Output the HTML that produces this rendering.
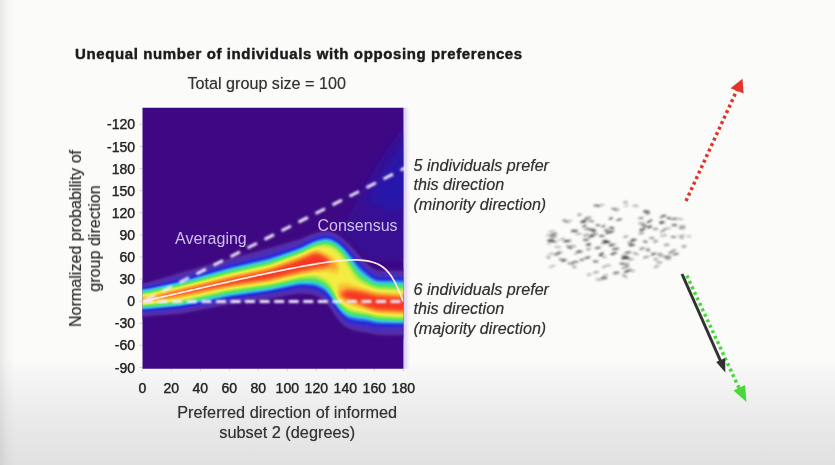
<!DOCTYPE html>
<html><head><meta charset="utf-8"><title>Unequal number of individuals with opposing preferences</title>
<style>
html,body{margin:0;padding:0}
body{width:835px;height:465px;overflow:hidden;position:relative;font-family:"Liberation Sans",Arial,Helvetica,sans-serif;color:#2b2b2b;
background:linear-gradient(to bottom,#fbfbfa 0px,#fbfbfa 360px,#f6f6f6 373px,#f0f0f0 395px,#e8e8e8 430px,#e1e1e1 465px)}
.edge{position:absolute;left:0;top:0;width:16px;height:465px;background:linear-gradient(to right,rgba(0,0,0,.075),rgba(0,0,0,.03) 6px,rgba(0,0,0,0) 16px)}
.t{position:absolute;white-space:nowrap;filter:blur(.55px);text-shadow:0 0 .8px rgba(40,40,40,.55)}
#title{left:75px;top:44.9px;font-weight:bold;font-size:15px;letter-spacing:.61px;color:#1c1c1c;-webkit-text-stroke:.3px #1c1c1c}
#sub{left:187.5px;top:73.6px;font-size:16.15px;color:#333}
.yl{position:absolute;left:85px;width:50px;text-align:right;font-size:14px;line-height:16px;color:#262626;filter:blur(.55px);-webkit-text-stroke:.25px #262626;text-shadow:0 0 .8px rgba(40,40,40,.6)}
.xl{position:absolute;top:379.7px;width:40px;text-align:center;font-size:14px;line-height:16px;color:#262626;filter:blur(.55px);-webkit-text-stroke:.25px #262626;text-shadow:0 0 .8px rgba(40,40,40,.6)}
#xt1,#xt2{font-size:16.3px;color:#333;text-align:center;width:300px;left:137.2px}
#xt1{top:403.4px} #xt2{top:422.6px}
.it{font-style:italic;font-size:16.15px;line-height:19.3px;color:#333;left:413.5px;white-space:pre}
#yt{position:absolute;left:0;top:0;width:200px;height:40px;transform-origin:0 0;transform:translate(66px,338.5px) rotate(-90deg);text-align:center;font-size:16.1px;line-height:19.3px;color:#333;filter:blur(.55px);text-shadow:0 0 .8px rgba(40,40,40,.55)}
svg{position:absolute;left:0;top:0}
.lab{font-size:16px;fill:#cdbfea}
</style></head><body>
<div class="edge"></div>
<div id="title" class="t">Unequal number of individuals with opposing preferences</div>
<div id="sub" class="t">Total group size = 100</div>
<div id="yt">Normalized probability of<br>group direction</div>
<div class="yl" style="top:116.4px">-120</div>
<div class="yl" style="top:138.5px">-150</div>
<div class="yl" style="top:160.6px">180</div>
<div class="yl" style="top:182.7px">150</div>
<div class="yl" style="top:204.8px">120</div>
<div class="yl" style="top:226.9px">90</div>
<div class="yl" style="top:249.0px">60</div>
<div class="yl" style="top:271.1px">30</div>
<div class="yl" style="top:293.2px">0</div>
<div class="yl" style="top:315.3px">-30</div>
<div class="yl" style="top:337.4px">-60</div>
<div class="yl" style="top:359.5px">-90</div>
<div class="xl" style="left:122.3px">0</div>
<div class="xl" style="left:151.3px">20</div>
<div class="xl" style="left:180.3px">40</div>
<div class="xl" style="left:209.3px">60</div>
<div class="xl" style="left:238.3px">80</div>
<div class="xl" style="left:267.3px">100</div>
<div class="xl" style="left:296.3px">120</div>
<div class="xl" style="left:325.3px">140</div>
<div class="xl" style="left:354.3px">160</div>
<div class="xl" style="left:383.3px">180</div>
<div id="xt1" class="t">Preferred direction of informed</div>
<div id="xt2" class="t">subset 2 (degrees)</div>
<div class="t it" style="top:156.2px">5 individuals prefer
this direction
(minority direction)</div>
<div class="t it" style="top:280.2px">6 individuals prefer
this direction
(majority direction)</div>
<svg width="835" height="465" viewBox="0 0 835 465">
<defs>
<linearGradient id="lav" x1="0" x2="1" y1="0" y2="0"><stop offset="0" stop-color="#d2c8ee"/><stop offset="0.45" stop-color="#e6e0f4"/><stop offset="1" stop-color="#f6f4f8" stop-opacity="0"/></linearGradient>
<clipPath id="pc"><rect x="142.5" y="107.7" width="260.9" height="261.0"/></clipPath>
<filter id="heat" x="100" y="60" width="360" height="360" filterUnits="userSpaceOnUse" color-interpolation-filters="sRGB">
<feGaussianBlur stdDeviation="2.0" result="g"/>
<feColorMatrix in="g" type="matrix" values="0 0 0 0 0  0 0 0 0 0  0 0 0 0 0  14 0 0 0 0" result="a"/>
<feComponentTransfer in="g" result="c">
<feFuncR type="table" tableValues="0.243 0.253 0.263 0.300 0.337 0.318 0.298 0.274 0.232 0.190 0.167 0.172 0.176 0.181 0.186 0.191 0.196 0.221 0.245 0.270 0.294 0.319 0.373 0.471 0.569 0.667 0.765 0.863 0.961 0.965 0.970 0.975 0.979 0.984 0.988 0.984 0.979 0.975 0.970 0.965 0.961"/>
<feFuncG type="table" tableValues="0.031 0.043 0.055 0.114 0.173 0.178 0.184 0.185 0.168 0.151 0.181 0.282 0.382 0.483 0.583 0.684 0.784 0.807 0.829 0.852 0.874 0.896 0.911 0.915 0.919 0.922 0.926 0.930 0.933 0.876 0.818 0.761 0.703 0.646 0.588 0.526 0.464 0.402 0.340 0.278 0.216"/>
<feFuncB type="table" tableValues="0.510 0.524 0.537 0.588 0.639 0.680 0.720 0.760 0.797 0.833 0.858 0.867 0.875 0.884 0.893 0.901 0.910 0.807 0.704 0.601 0.498 0.395 0.328 0.316 0.304 0.292 0.279 0.267 0.255 0.242 0.229 0.216 0.203 0.190 0.176 0.170 0.163 0.157 0.150 0.144 0.137"/>
</feComponentTransfer>
<feComposite in="c" in2="a" operator="in"/>
</filter>
<filter id="b1" x="-20%" y="-20%" width="140%" height="140%"><feGaussianBlur stdDeviation="0.7"/></filter>
<filter id="b3" x="0" y="0" width="835" height="465" filterUnits="userSpaceOnUse"><feGaussianBlur stdDeviation="0.8"/></filter>
<filter id="b2" x="-20%" y="-20%" width="140%" height="140%"><feGaussianBlur stdDeviation="0.8"/></filter>
<filter id="b6" x="0" y="0" width="835" height="465" filterUnits="userSpaceOnUse"><feGaussianBlur stdDeviation="2.6"/></filter>
<filter id="b7" x="0" y="0" width="835" height="465" filterUnits="userSpaceOnUse"><feGaussianBlur stdDeviation="0.6"/></filter>
<filter id="b5" x="-50%" y="-50%" width="200%" height="200%"><feGaussianBlur stdDeviation="7"/></filter>
</defs>
<g stroke="#d0d0d0" stroke-width="1"><line x1="139.5" x2="142.5" y1="124.4" y2="124.4"/>
<line x1="139.5" x2="142.5" y1="146.5" y2="146.5"/>
<line x1="139.5" x2="142.5" y1="168.6" y2="168.6"/>
<line x1="139.5" x2="142.5" y1="190.7" y2="190.7"/>
<line x1="139.5" x2="142.5" y1="212.8" y2="212.8"/>
<line x1="139.5" x2="142.5" y1="234.9" y2="234.9"/>
<line x1="139.5" x2="142.5" y1="257.0" y2="257.0"/>
<line x1="139.5" x2="142.5" y1="279.1" y2="279.1"/>
<line x1="139.5" x2="142.5" y1="301.2" y2="301.2"/>
<line x1="139.5" x2="142.5" y1="323.3" y2="323.3"/>
<line x1="139.5" x2="142.5" y1="345.4" y2="345.4"/>
<line x1="139.5" x2="142.5" y1="367.5" y2="367.5"/><line x1="142.3" x2="142.3" y1="368.7" y2="371.2"/>
<line x1="171.3" x2="171.3" y1="368.7" y2="371.2"/>
<line x1="200.3" x2="200.3" y1="368.7" y2="371.2"/>
<line x1="229.3" x2="229.3" y1="368.7" y2="371.2"/>
<line x1="258.3" x2="258.3" y1="368.7" y2="371.2"/>
<line x1="287.3" x2="287.3" y1="368.7" y2="371.2"/>
<line x1="316.3" x2="316.3" y1="368.7" y2="371.2"/>
<line x1="345.3" x2="345.3" y1="368.7" y2="371.2"/>
<line x1="374.3" x2="374.3" y1="368.7" y2="371.2"/>
<line x1="403.3" x2="403.3" y1="368.7" y2="371.2"/></g>
<rect x="402.9" y="107.7" width="8" height="261.0" fill="url(#lav)"/>
<g clip-path="url(#pc)">
<rect x="100" y="60" width="360" height="360" fill="rgb(62,8,130)"/>
<g filter="url(#b5)">
<path d="M330,250 L360,196 L388,150 L414,112 L414,262 L380,262Z" fill="rgb(52,22,165)" opacity="0.5"/>
<path d="M364,200 L384,166 L414,128 L414,208 L392,212Z" fill="rgb(30,26,190)" opacity="0.55"/>
</g>
<g filter="url(#heat)">
<rect x="100" y="60" width="360" height="360" fill="#000"/>
<path d="M136.0,282.7 L137.0,282.7 L138.0,282.7 L139.0,282.7 L140.0,282.7 L141.0,282.7 L142.0,282.7 L143.0,282.6 L144.0,282.5 L145.0,282.4 L146.0,282.2 L147.0,282.0 L148.0,281.7 L149.0,281.4 L150.0,281.1 L151.0,280.8 L152.0,280.5 L153.0,280.2 L154.0,279.9 L155.0,279.6 L156.0,279.2 L157.0,278.9 L158.0,278.6 L159.0,278.3 L160.0,278.0 L161.0,277.7 L162.0,277.4 L163.0,277.0 L164.0,276.7 L165.0,276.4 L166.0,276.1 L167.0,275.8 L168.0,275.5 L169.0,275.2 L170.0,274.8 L171.0,274.5 L172.0,274.2 L173.0,273.9 L174.0,273.6 L175.0,273.3 L176.0,273.0 L177.0,272.6 L178.0,272.3 L179.0,272.0 L180.0,271.7 L181.0,271.4 L182.0,271.1 L183.0,270.9 L184.0,270.6 L185.0,270.3 L186.0,270.0 L187.0,269.7 L188.0,269.4 L189.0,269.1 L190.0,268.9 L191.0,268.6 L192.0,268.3 L193.0,268.0 L194.0,267.7 L195.0,267.4 L196.0,267.2 L197.0,266.9 L198.0,266.6 L199.0,266.3 L200.0,266.0 L201.0,265.7 L202.0,265.5 L203.0,265.2 L204.0,264.9 L205.0,264.6 L206.0,264.3 L207.0,264.0 L208.0,263.7 L209.0,263.5 L210.0,263.2 L211.0,262.9 L212.0,262.6 L213.0,262.3 L214.0,262.0 L215.0,261.8 L216.0,261.5 L217.0,261.2 L218.0,260.9 L219.0,260.6 L220.0,260.3 L221.0,260.1 L222.0,259.8 L223.0,259.5 L224.0,259.2 L225.0,258.9 L226.0,258.6 L227.0,258.4 L228.0,258.1 L229.0,257.8 L230.0,257.5 L231.0,257.2 L232.0,257.0 L233.0,256.7 L234.0,256.4 L235.0,256.2 L236.0,255.9 L237.0,255.6 L238.0,255.3 L239.0,255.1 L240.0,254.8 L241.0,254.5 L242.0,254.3 L243.0,254.0 L244.0,253.7 L245.0,253.4 L246.0,253.2 L247.0,252.9 L248.0,252.6 L249.0,252.4 L250.0,252.1 L251.0,251.8 L252.0,251.6 L253.0,251.3 L254.0,251.0 L255.0,250.7 L256.0,250.5 L257.0,250.2 L258.0,249.9 L259.0,249.7 L260.0,249.4 L261.0,249.1 L262.0,248.9 L263.0,248.6 L264.0,248.3 L265.0,248.1 L266.0,247.8 L267.0,247.5 L268.0,247.2 L269.0,247.0 L270.0,246.7 L271.0,246.4 L272.0,246.1 L273.0,245.9 L274.0,245.6 L275.0,245.3 L276.0,245.0 L277.0,244.7 L278.0,244.5 L279.0,244.2 L280.0,243.9 L281.0,243.6 L282.0,243.3 L283.0,243.1 L284.0,242.8 L285.0,242.5 L286.0,242.2 L287.0,241.9 L288.0,241.7 L289.0,241.4 L290.0,241.1 L291.0,240.8 L292.0,240.5 L293.0,240.3 L294.0,240.0 L295.0,239.7 L296.0,239.4 L297.0,239.1 L298.0,238.8 L299.0,238.5 L300.0,238.1 L301.0,237.8 L302.0,237.4 L303.0,237.0 L304.0,236.6 L305.0,236.1 L306.0,235.7 L307.0,235.2 L308.0,234.8 L309.0,234.4 L310.0,233.9 L311.0,233.5 L312.0,233.1 L313.0,232.7 L314.0,232.3 L315.0,232.0 L316.0,231.7 L317.0,231.4 L318.0,231.1 L319.0,230.9 L320.0,230.7 L321.0,230.6 L322.0,230.4 L323.0,230.3 L324.0,230.1 L325.0,230.0 L326.0,230.0 L327.0,230.0 L328.0,230.1 L329.0,230.3 L330.0,230.5 L331.0,230.8 L332.0,231.1 L333.0,231.5 L334.0,231.9 L335.0,232.4 L336.0,232.9 L337.0,233.4 L338.0,234.0 L339.0,234.7 L340.0,235.3 L341.0,236.1 L342.0,236.8 L343.0,237.7 L344.0,238.5 L345.0,239.4 L346.0,240.3 L347.0,241.3 L348.0,242.2 L349.0,243.2 L350.0,244.2 L351.0,245.3 L352.0,246.4 L353.0,247.4 L354.0,248.5 L355.0,249.6 L356.0,250.6 L357.0,251.7 L358.0,252.8 L359.0,253.9 L360.0,255.0 L361.0,256.2 L362.0,257.3 L363.0,258.4 L364.0,259.5 L365.0,260.6 L366.0,261.6 L367.0,262.6 L368.0,263.5 L369.0,264.4 L370.0,265.3 L371.0,266.1 L372.0,266.8 L373.0,267.4 L374.0,267.9 L375.0,268.4 L376.0,268.8 L377.0,269.1 L378.0,269.3 L379.0,269.4 L380.0,269.5 L381.0,269.5 L382.0,269.5 L383.0,269.5 L384.0,269.5 L385.0,269.5 L386.0,269.5 L387.0,269.5 L388.0,269.5 L389.0,269.5 L390.0,269.5 L391.0,269.5 L392.0,269.5 L393.0,269.5 L394.0,269.5 L395.0,269.5 L396.0,269.5 L397.0,269.5 L398.0,269.6 L399.0,269.6 L400.0,269.6 L401.0,269.6 L402.0,269.7 L403.0,269.7 L404.0,269.8 L405.0,269.8 L406.0,269.8 L407.0,269.9 L408.0,269.9 L409.0,269.9 L410.0,270.0 L410.0,336.5 L409.0,336.5 L408.0,336.5 L407.0,336.5 L406.0,336.5 L405.0,336.5 L404.0,336.5 L403.0,336.5 L402.0,336.5 L401.0,336.5 L400.0,336.5 L399.0,336.5 L398.0,336.5 L397.0,336.5 L396.0,336.5 L395.0,336.5 L394.0,336.5 L393.0,336.4 L392.0,336.4 L391.0,336.4 L390.0,336.4 L389.0,336.4 L388.0,336.4 L387.0,336.4 L386.0,336.3 L385.0,336.3 L384.0,336.3 L383.0,336.3 L382.0,336.3 L381.0,336.3 L380.0,336.3 L379.0,336.2 L378.0,336.2 L377.0,336.1 L376.0,335.9 L375.0,335.8 L374.0,335.6 L373.0,335.4 L372.0,335.1 L371.0,334.9 L370.0,334.6 L369.0,334.4 L368.0,334.2 L367.0,334.0 L366.0,333.8 L365.0,333.6 L364.0,333.4 L363.0,333.3 L362.0,333.2 L361.0,333.0 L360.0,332.9 L359.0,332.7 L358.0,332.5 L357.0,332.3 L356.0,332.0 L355.0,331.8 L354.0,331.5 L353.0,331.3 L352.0,331.0 L351.0,330.7 L350.0,330.4 L349.0,330.0 L348.0,329.5 L347.0,329.0 L346.0,328.4 L345.0,327.7 L344.0,326.9 L343.0,326.1 L342.0,325.2 L341.0,324.2 L340.0,323.1 L339.0,321.9 L338.0,320.7 L337.0,319.3 L336.0,317.9 L335.0,316.4 L334.0,314.8 L333.0,313.1 L332.0,311.4 L331.0,309.8 L330.0,308.4 L329.0,307.0 L328.0,305.7 L327.0,304.6 L326.0,303.5 L325.0,302.6 L324.0,301.8 L323.0,301.1 L322.0,300.4 L321.0,299.7 L320.0,299.0 L319.0,298.4 L318.0,297.8 L317.0,297.3 L316.0,296.8 L315.0,296.4 L314.0,296.1 L313.0,295.9 L312.0,295.7 L311.0,295.6 L310.0,295.4 L309.0,295.3 L308.0,295.2 L307.0,295.1 L306.0,295.0 L305.0,294.9 L304.0,294.8 L303.0,294.7 L302.0,294.6 L301.0,294.6 L300.0,294.6 L299.0,294.7 L298.0,294.7 L297.0,294.9 L296.0,295.0 L295.0,295.2 L294.0,295.3 L293.0,295.5 L292.0,295.7 L291.0,295.9 L290.0,296.0 L289.0,296.2 L288.0,296.4 L287.0,296.6 L286.0,296.7 L285.0,296.9 L284.0,297.1 L283.0,297.2 L282.0,297.4 L281.0,297.6 L280.0,297.8 L279.0,297.9 L278.0,298.1 L277.0,298.3 L276.0,298.5 L275.0,298.6 L274.0,298.8 L273.0,299.0 L272.0,299.1 L271.0,299.3 L270.0,299.5 L269.0,299.6 L268.0,299.8 L267.0,299.9 L266.0,300.0 L265.0,300.2 L264.0,300.3 L263.0,300.5 L262.0,300.6 L261.0,300.7 L260.0,300.9 L259.0,301.0 L258.0,301.1 L257.0,301.3 L256.0,301.4 L255.0,301.6 L254.0,301.7 L253.0,301.8 L252.0,302.0 L251.0,302.1 L250.0,302.2 L249.0,302.4 L248.0,302.5 L247.0,302.7 L246.0,302.8 L245.0,302.9 L244.0,303.1 L243.0,303.2 L242.0,303.4 L241.0,303.5 L240.0,303.6 L239.0,303.8 L238.0,303.9 L237.0,304.0 L236.0,304.2 L235.0,304.3 L234.0,304.4 L233.0,304.6 L232.0,304.7 L231.0,304.9 L230.0,305.1 L229.0,305.2 L228.0,305.4 L227.0,305.6 L226.0,305.8 L225.0,306.0 L224.0,306.2 L223.0,306.4 L222.0,306.6 L221.0,306.8 L220.0,307.0 L219.0,307.2 L218.0,307.4 L217.0,307.6 L216.0,307.8 L215.0,308.0 L214.0,308.2 L213.0,308.4 L212.0,308.6 L211.0,308.8 L210.0,309.0 L209.0,309.2 L208.0,309.4 L207.0,309.6 L206.0,309.8 L205.0,310.0 L204.0,310.1 L203.0,310.3 L202.0,310.5 L201.0,310.7 L200.0,310.9 L199.0,311.1 L198.0,311.3 L197.0,311.5 L196.0,311.7 L195.0,311.9 L194.0,312.1 L193.0,312.3 L192.0,312.5 L191.0,312.7 L190.0,312.9 L189.0,313.1 L188.0,313.3 L187.0,313.5 L186.0,313.7 L185.0,313.9 L184.0,314.1 L183.0,314.3 L182.0,314.5 L181.0,314.6 L180.0,314.8 L179.0,314.9 L178.0,315.0 L177.0,315.1 L176.0,315.2 L175.0,315.2 L174.0,315.3 L173.0,315.4 L172.0,315.4 L171.0,315.5 L170.0,315.6 L169.0,315.7 L168.0,315.7 L167.0,315.8 L166.0,315.9 L165.0,315.9 L164.0,316.0 L163.0,316.1 L162.0,316.1 L161.0,316.2 L160.0,316.3 L159.0,316.3 L158.0,316.4 L157.0,316.5 L156.0,316.5 L155.0,316.6 L154.0,316.7 L153.0,316.8 L152.0,316.8 L151.0,316.9 L150.0,317.0 L149.0,317.0 L148.0,317.1 L147.0,317.1 L146.0,317.2 L145.0,317.2 L144.0,317.3 L143.0,317.3 L142.0,317.3 L141.0,317.3 L140.0,317.3 L139.0,317.3 L138.0,317.3 L137.0,317.3 L136.0,317.3Z" fill="rgb(26,26,26)" filter="url(#b6)"/>
<path d="M136.0,285.3 L137.0,285.3 L138.0,285.3 L139.0,285.3 L140.0,285.3 L141.0,285.3 L142.0,285.3 L143.0,285.3 L144.0,285.2 L145.0,285.1 L146.0,284.9 L147.0,284.7 L148.0,284.5 L149.0,284.3 L150.0,284.0 L151.0,283.8 L152.0,283.5 L153.0,283.2 L154.0,283.0 L155.0,282.7 L156.0,282.4 L157.0,282.2 L158.0,281.9 L159.0,281.6 L160.0,281.4 L161.0,281.1 L162.0,280.8 L163.0,280.6 L164.0,280.3 L165.0,280.0 L166.0,279.8 L167.0,279.5 L168.0,279.2 L169.0,279.0 L170.0,278.7 L171.0,278.4 L172.0,278.2 L173.0,277.9 L174.0,277.6 L175.0,277.4 L176.0,277.1 L177.0,276.8 L178.0,276.6 L179.0,276.3 L180.0,276.0 L181.0,275.8 L182.0,275.5 L183.0,275.2 L184.0,274.9 L185.0,274.6 L186.0,274.3 L187.0,274.1 L188.0,273.8 L189.0,273.5 L190.0,273.2 L191.0,272.9 L192.0,272.6 L193.0,272.3 L194.0,272.1 L195.0,271.8 L196.0,271.5 L197.0,271.2 L198.0,270.9 L199.0,270.6 L200.0,270.4 L201.0,270.1 L202.0,269.8 L203.0,269.5 L204.0,269.2 L205.0,268.9 L206.0,268.6 L207.0,268.4 L208.0,268.1 L209.0,267.8 L210.0,267.5 L211.0,267.2 L212.0,266.9 L213.0,266.6 L214.0,266.4 L215.0,266.1 L216.0,265.8 L217.0,265.5 L218.0,265.2 L219.0,264.9 L220.0,264.6 L221.0,264.4 L222.0,264.1 L223.0,263.8 L224.0,263.5 L225.0,263.2 L226.0,262.9 L227.0,262.7 L228.0,262.4 L229.0,262.1 L230.0,261.8 L231.0,261.6 L232.0,261.3 L233.0,261.0 L234.0,260.8 L235.0,260.5 L236.0,260.3 L237.0,260.0 L238.0,259.7 L239.0,259.5 L240.0,259.2 L241.0,259.0 L242.0,258.7 L243.0,258.5 L244.0,258.2 L245.0,257.9 L246.0,257.7 L247.0,257.4 L248.0,257.2 L249.0,256.9 L250.0,256.6 L251.0,256.4 L252.0,256.1 L253.0,255.9 L254.0,255.6 L255.0,255.4 L256.0,255.1 L257.0,254.8 L258.0,254.6 L259.0,254.3 L260.0,254.1 L261.0,253.8 L262.0,253.6 L263.0,253.3 L264.0,253.0 L265.0,252.8 L266.0,252.5 L267.0,252.3 L268.0,252.0 L269.0,251.7 L270.0,251.4 L271.0,251.2 L272.0,250.9 L273.0,250.6 L274.0,250.3 L275.0,249.9 L276.0,249.6 L277.0,249.3 L278.0,249.0 L279.0,248.7 L280.0,248.4 L281.0,248.1 L282.0,247.8 L283.0,247.5 L284.0,247.2 L285.0,246.8 L286.0,246.5 L287.0,246.2 L288.0,245.9 L289.0,245.6 L290.0,245.3 L291.0,245.0 L292.0,244.7 L293.0,244.4 L294.0,244.1 L295.0,243.8 L296.0,243.4 L297.0,243.1 L298.0,242.8 L299.0,242.4 L300.0,242.0 L301.0,241.6 L302.0,241.2 L303.0,240.8 L304.0,240.4 L305.0,239.9 L306.0,239.4 L307.0,239.0 L308.0,238.5 L309.0,238.0 L310.0,237.6 L311.0,237.1 L312.0,236.7 L313.0,236.2 L314.0,235.8 L315.0,235.5 L316.0,235.1 L317.0,234.8 L318.0,234.5 L319.0,234.3 L320.0,234.0 L321.0,233.8 L322.0,233.6 L323.0,233.4 L324.0,233.2 L325.0,233.1 L326.0,233.1 L327.0,233.1 L328.0,233.2 L329.0,233.3 L330.0,233.5 L331.0,233.8 L332.0,234.2 L333.0,234.6 L334.0,235.1 L335.0,235.6 L336.0,236.1 L337.0,236.7 L338.0,237.3 L339.0,237.9 L340.0,238.6 L341.0,239.4 L342.0,240.2 L343.0,241.1 L344.0,242.0 L345.0,242.9 L346.0,243.8 L347.0,244.8 L348.0,245.9 L349.0,246.9 L350.0,248.0 L351.0,249.2 L352.0,250.3 L353.0,251.5 L354.0,252.6 L355.0,253.7 L356.0,254.9 L357.0,256.0 L358.0,257.1 L359.0,258.2 L360.0,259.2 L361.0,260.3 L362.0,261.4 L363.0,262.4 L364.0,263.5 L365.0,264.5 L366.0,265.5 L367.0,266.5 L368.0,267.5 L369.0,268.4 L370.0,269.3 L371.0,270.2 L372.0,271.0 L373.0,271.7 L374.0,272.3 L375.0,272.8 L376.0,273.2 L377.0,273.6 L378.0,273.8 L379.0,274.0 L380.0,274.0 L381.0,274.0 L382.0,274.0 L383.0,274.0 L384.0,274.0 L385.0,274.0 L386.0,273.9 L387.0,273.9 L388.0,273.9 L389.0,273.9 L390.0,273.9 L391.0,273.9 L392.0,273.8 L393.0,273.8 L394.0,273.8 L395.0,273.8 L396.0,273.8 L397.0,273.8 L398.0,273.8 L399.0,273.8 L400.0,273.9 L401.0,273.9 L402.0,274.0 L403.0,274.0 L404.0,274.0 L405.0,274.1 L406.0,274.1 L407.0,274.2 L408.0,274.2 L409.0,274.2 L410.0,274.3 L410.0,331.3 L409.0,331.3 L408.0,331.3 L407.0,331.3 L406.0,331.3 L405.0,331.3 L404.0,331.3 L403.0,331.3 L402.0,331.3 L401.0,331.4 L400.0,331.4 L399.0,331.4 L398.0,331.4 L397.0,331.4 L396.0,331.4 L395.0,331.4 L394.0,331.4 L393.0,331.4 L392.0,331.4 L391.0,331.4 L390.0,331.4 L389.0,331.4 L388.0,331.4 L387.0,331.4 L386.0,331.4 L385.0,331.4 L384.0,331.4 L383.0,331.4 L382.0,331.4 L381.0,331.4 L380.0,331.4 L379.0,331.4 L378.0,331.4 L377.0,331.3 L376.0,331.2 L375.0,331.0 L374.0,330.8 L373.0,330.6 L372.0,330.4 L371.0,330.1 L370.0,329.9 L369.0,329.7 L368.0,329.5 L367.0,329.3 L366.0,329.1 L365.0,329.0 L364.0,328.9 L363.0,328.8 L362.0,328.7 L361.0,328.5 L360.0,328.4 L359.0,328.3 L358.0,328.1 L357.0,327.9 L356.0,327.7 L355.0,327.5 L354.0,327.3 L353.0,327.1 L352.0,326.8 L351.0,326.5 L350.0,326.2 L349.0,325.9 L348.0,325.4 L347.0,324.8 L346.0,324.2 L345.0,323.5 L344.0,322.6 L343.0,321.7 L342.0,320.7 L341.0,319.6 L340.0,318.5 L339.0,317.2 L338.0,315.9 L337.0,314.6 L336.0,313.1 L335.0,311.6 L334.0,310.0 L333.0,308.4 L332.0,306.7 L331.0,305.2 L330.0,303.7 L329.0,302.4 L328.0,301.2 L327.0,300.1 L326.0,299.1 L325.0,298.2 L324.0,297.4 L323.0,296.8 L322.0,296.1 L321.0,295.5 L320.0,294.9 L319.0,294.3 L318.0,293.7 L317.0,293.2 L316.0,292.8 L315.0,292.5 L314.0,292.2 L313.0,291.9 L312.0,291.7 L311.0,291.6 L310.0,291.5 L309.0,291.4 L308.0,291.3 L307.0,291.2 L306.0,291.1 L305.0,291.0 L304.0,290.8 L303.0,290.8 L302.0,290.7 L301.0,290.7 L300.0,290.7 L299.0,290.8 L298.0,290.9 L297.0,291.0 L296.0,291.1 L295.0,291.3 L294.0,291.5 L293.0,291.7 L292.0,291.9 L291.0,292.1 L290.0,292.2 L289.0,292.4 L288.0,292.6 L287.0,292.8 L286.0,293.0 L285.0,293.2 L284.0,293.4 L283.0,293.5 L282.0,293.7 L281.0,293.9 L280.0,294.1 L279.0,294.3 L278.0,294.5 L277.0,294.7 L276.0,294.8 L275.0,295.0 L274.0,295.2 L273.0,295.4 L272.0,295.6 L271.0,295.7 L270.0,295.9 L269.0,296.1 L268.0,296.2 L267.0,296.4 L266.0,296.5 L265.0,296.6 L264.0,296.8 L263.0,296.9 L262.0,297.0 L261.0,297.2 L260.0,297.3 L259.0,297.5 L258.0,297.6 L257.0,297.7 L256.0,297.9 L255.0,298.0 L254.0,298.1 L253.0,298.3 L252.0,298.4 L251.0,298.6 L250.0,298.7 L249.0,298.8 L248.0,299.0 L247.0,299.1 L246.0,299.2 L245.0,299.4 L244.0,299.5 L243.0,299.7 L242.0,299.8 L241.0,299.9 L240.0,300.1 L239.0,300.2 L238.0,300.3 L237.0,300.5 L236.0,300.6 L235.0,300.8 L234.0,300.9 L233.0,301.0 L232.0,301.2 L231.0,301.3 L230.0,301.5 L229.0,301.7 L228.0,301.8 L227.0,302.0 L226.0,302.2 L225.0,302.4 L224.0,302.6 L223.0,302.8 L222.0,303.0 L221.0,303.2 L220.0,303.3 L219.0,303.5 L218.0,303.7 L217.0,303.9 L216.0,304.1 L215.0,304.3 L214.0,304.5 L213.0,304.7 L212.0,304.9 L211.0,305.1 L210.0,305.2 L209.0,305.4 L208.0,305.6 L207.0,305.8 L206.0,306.0 L205.0,306.2 L204.0,306.4 L203.0,306.6 L202.0,306.8 L201.0,307.0 L200.0,307.1 L199.0,307.3 L198.0,307.5 L197.0,307.7 L196.0,307.9 L195.0,308.1 L194.0,308.3 L193.0,308.5 L192.0,308.7 L191.0,308.9 L190.0,309.0 L189.0,309.2 L188.0,309.4 L187.0,309.6 L186.0,309.8 L185.0,310.0 L184.0,310.2 L183.0,310.4 L182.0,310.5 L181.0,310.7 L180.0,310.8 L179.0,311.0 L178.0,311.1 L177.0,311.2 L176.0,311.3 L175.0,311.4 L174.0,311.4 L173.0,311.5 L172.0,311.6 L171.0,311.7 L170.0,311.8 L169.0,311.8 L168.0,311.9 L167.0,312.0 L166.0,312.1 L165.0,312.2 L164.0,312.3 L163.0,312.3 L162.0,312.4 L161.0,312.5 L160.0,312.6 L159.0,312.7 L158.0,312.7 L157.0,312.8 L156.0,312.9 L155.0,313.0 L154.0,313.1 L153.0,313.1 L152.0,313.2 L151.0,313.3 L150.0,313.4 L149.0,313.5 L148.0,313.5 L147.0,313.6 L146.0,313.7 L145.0,313.7 L144.0,313.7 L143.0,313.8 L142.0,313.8 L141.0,313.8 L140.0,313.8 L139.0,313.8 L138.0,313.8 L137.0,313.8 L136.0,313.8Z" fill="rgb(43,43,43)"/>
<path d="M136.0,288.0 L137.0,288.0 L138.0,288.0 L139.0,288.0 L140.0,288.0 L141.0,288.0 L142.0,288.0 L143.0,287.9 L144.0,287.9 L145.0,287.8 L146.0,287.6 L147.0,287.5 L148.0,287.3 L149.0,287.1 L150.0,286.9 L151.0,286.7 L152.0,286.5 L153.0,286.3 L154.0,286.0 L155.0,285.8 L156.0,285.6 L157.0,285.4 L158.0,285.2 L159.0,285.0 L160.0,284.7 L161.0,284.5 L162.0,284.3 L163.0,284.1 L164.0,283.9 L165.0,283.7 L166.0,283.4 L167.0,283.2 L168.0,283.0 L169.0,282.8 L170.0,282.6 L171.0,282.4 L172.0,282.1 L173.0,281.9 L174.0,281.7 L175.0,281.5 L176.0,281.3 L177.0,281.0 L178.0,280.8 L179.0,280.6 L180.0,280.3 L181.0,280.1 L182.0,279.8 L183.0,279.5 L184.0,279.3 L185.0,279.0 L186.0,278.7 L187.0,278.4 L188.0,278.1 L189.0,277.8 L190.0,277.5 L191.0,277.3 L192.0,277.0 L193.0,276.7 L194.0,276.4 L195.0,276.1 L196.0,275.8 L197.0,275.5 L198.0,275.3 L199.0,275.0 L200.0,274.7 L201.0,274.4 L202.0,274.1 L203.0,273.8 L204.0,273.5 L205.0,273.2 L206.0,273.0 L207.0,272.7 L208.0,272.4 L209.0,272.1 L210.0,271.8 L211.0,271.5 L212.0,271.2 L213.0,271.0 L214.0,270.7 L215.0,270.4 L216.0,270.1 L217.0,269.8 L218.0,269.5 L219.0,269.2 L220.0,269.0 L221.0,268.7 L222.0,268.4 L223.0,268.1 L224.0,267.8 L225.0,267.5 L226.0,267.2 L227.0,267.0 L228.0,266.7 L229.0,266.4 L230.0,266.1 L231.0,265.9 L232.0,265.6 L233.0,265.4 L234.0,265.1 L235.0,264.9 L236.0,264.6 L237.0,264.4 L238.0,264.1 L239.0,263.9 L240.0,263.6 L241.0,263.4 L242.0,263.2 L243.0,262.9 L244.0,262.7 L245.0,262.4 L246.0,262.2 L247.0,261.9 L248.0,261.7 L249.0,261.4 L250.0,261.2 L251.0,261.0 L252.0,260.7 L253.0,260.5 L254.0,260.2 L255.0,260.0 L256.0,259.7 L257.0,259.5 L258.0,259.2 L259.0,259.0 L260.0,258.8 L261.0,258.5 L262.0,258.3 L263.0,258.0 L264.0,257.8 L265.0,257.5 L266.0,257.3 L267.0,257.0 L268.0,256.8 L269.0,256.5 L270.0,256.2 L271.0,255.9 L272.0,255.6 L273.0,255.3 L274.0,254.9 L275.0,254.6 L276.0,254.3 L277.0,253.9 L278.0,253.6 L279.0,253.2 L280.0,252.9 L281.0,252.6 L282.0,252.2 L283.0,251.9 L284.0,251.5 L285.0,251.2 L286.0,250.9 L287.0,250.5 L288.0,250.2 L289.0,249.8 L290.0,249.5 L291.0,249.2 L292.0,248.8 L293.0,248.5 L294.0,248.1 L295.0,247.8 L296.0,247.5 L297.0,247.1 L298.0,246.7 L299.0,246.3 L300.0,245.9 L301.0,245.5 L302.0,245.1 L303.0,244.6 L304.0,244.2 L305.0,243.7 L306.0,243.2 L307.0,242.7 L308.0,242.2 L309.0,241.7 L310.0,241.2 L311.0,240.7 L312.0,240.3 L313.0,239.8 L314.0,239.4 L315.0,239.0 L316.0,238.6 L317.0,238.2 L318.0,237.9 L319.0,237.6 L320.0,237.4 L321.0,237.1 L322.0,236.9 L323.0,236.6 L324.0,236.4 L325.0,236.2 L326.0,236.1 L327.0,236.1 L328.0,236.2 L329.0,236.4 L330.0,236.6 L331.0,236.9 L332.0,237.3 L333.0,237.7 L334.0,238.2 L335.0,238.7 L336.0,239.3 L337.0,239.9 L338.0,240.5 L339.0,241.2 L340.0,242.0 L341.0,242.7 L342.0,243.6 L343.0,244.5 L344.0,245.4 L345.0,246.4 L346.0,247.4 L347.0,248.4 L348.0,249.5 L349.0,250.7 L350.0,251.8 L351.0,253.0 L352.0,254.3 L353.0,255.5 L354.0,256.7 L355.0,257.9 L356.0,259.1 L357.0,260.2 L358.0,261.3 L359.0,262.4 L360.0,263.5 L361.0,264.5 L362.0,265.5 L363.0,266.5 L364.0,267.5 L365.0,268.5 L366.0,269.5 L367.0,270.4 L368.0,271.4 L369.0,272.4 L370.0,273.3 L371.0,274.3 L372.0,275.2 L373.0,276.0 L374.0,276.7 L375.0,277.2 L376.0,277.7 L377.0,278.1 L378.0,278.4 L379.0,278.5 L380.0,278.6 L381.0,278.5 L382.0,278.5 L383.0,278.5 L384.0,278.4 L385.0,278.4 L386.0,278.4 L387.0,278.3 L388.0,278.3 L389.0,278.3 L390.0,278.2 L391.0,278.2 L392.0,278.2 L393.0,278.1 L394.0,278.1 L395.0,278.1 L396.0,278.1 L397.0,278.1 L398.0,278.1 L399.0,278.1 L400.0,278.1 L401.0,278.2 L402.0,278.2 L403.0,278.3 L404.0,278.3 L405.0,278.4 L406.0,278.4 L407.0,278.5 L408.0,278.5 L409.0,278.5 L410.0,278.5 L410.0,326.2 L409.0,326.2 L408.0,326.2 L407.0,326.2 L406.0,326.2 L405.0,326.2 L404.0,326.2 L403.0,326.2 L402.0,326.2 L401.0,326.2 L400.0,326.2 L399.0,326.2 L398.0,326.2 L397.0,326.2 L396.0,326.2 L395.0,326.3 L394.0,326.3 L393.0,326.3 L392.0,326.3 L391.0,326.3 L390.0,326.4 L389.0,326.4 L388.0,326.4 L387.0,326.4 L386.0,326.5 L385.0,326.5 L384.0,326.5 L383.0,326.5 L382.0,326.6 L381.0,326.6 L380.0,326.6 L379.0,326.6 L378.0,326.6 L377.0,326.5 L376.0,326.4 L375.0,326.3 L374.0,326.1 L373.0,325.9 L372.0,325.7 L371.0,325.4 L370.0,325.2 L369.0,325.0 L368.0,324.8 L367.0,324.7 L366.0,324.5 L365.0,324.4 L364.0,324.3 L363.0,324.2 L362.0,324.2 L361.0,324.1 L360.0,324.0 L359.0,323.9 L358.0,323.7 L357.0,323.6 L356.0,323.4 L355.0,323.2 L354.0,323.1 L353.0,322.8 L352.0,322.6 L351.0,322.4 L350.0,322.1 L349.0,321.8 L348.0,321.3 L347.0,320.7 L346.0,320.0 L345.0,319.2 L344.0,318.3 L343.0,317.4 L342.0,316.3 L341.0,315.1 L340.0,313.8 L339.0,312.5 L338.0,311.2 L337.0,309.8 L336.0,308.3 L335.0,306.8 L334.0,305.3 L333.0,303.7 L332.0,302.0 L331.0,300.5 L330.0,299.1 L329.0,297.8 L328.0,296.7 L327.0,295.6 L326.0,294.6 L325.0,293.8 L324.0,293.1 L323.0,292.5 L322.0,291.9 L321.0,291.3 L320.0,290.7 L319.0,290.1 L318.0,289.6 L317.0,289.2 L316.0,288.8 L315.0,288.5 L314.0,288.2 L313.0,288.0 L312.0,287.8 L311.0,287.7 L310.0,287.6 L309.0,287.5 L308.0,287.4 L307.0,287.3 L306.0,287.1 L305.0,287.0 L304.0,286.9 L303.0,286.9 L302.0,286.8 L301.0,286.8 L300.0,286.8 L299.0,286.9 L298.0,287.0 L297.0,287.1 L296.0,287.3 L295.0,287.5 L294.0,287.7 L293.0,287.9 L292.0,288.1 L291.0,288.3 L290.0,288.5 L289.0,288.7 L288.0,288.9 L287.0,289.1 L286.0,289.3 L285.0,289.4 L284.0,289.6 L283.0,289.8 L282.0,290.0 L281.0,290.2 L280.0,290.4 L279.0,290.6 L278.0,290.8 L277.0,291.0 L276.0,291.2 L275.0,291.4 L274.0,291.6 L273.0,291.8 L272.0,292.0 L271.0,292.2 L270.0,292.3 L269.0,292.5 L268.0,292.7 L267.0,292.8 L266.0,292.9 L265.0,293.1 L264.0,293.2 L263.0,293.4 L262.0,293.5 L261.0,293.6 L260.0,293.8 L259.0,293.9 L258.0,294.0 L257.0,294.2 L256.0,294.3 L255.0,294.5 L254.0,294.6 L253.0,294.7 L252.0,294.9 L251.0,295.0 L250.0,295.1 L249.0,295.3 L248.0,295.4 L247.0,295.6 L246.0,295.7 L245.0,295.8 L244.0,296.0 L243.0,296.1 L242.0,296.2 L241.0,296.4 L240.0,296.5 L239.0,296.7 L238.0,296.8 L237.0,296.9 L236.0,297.1 L235.0,297.2 L234.0,297.3 L233.0,297.5 L232.0,297.6 L231.0,297.8 L230.0,297.9 L229.0,298.1 L228.0,298.3 L227.0,298.5 L226.0,298.6 L225.0,298.8 L224.0,299.0 L223.0,299.2 L222.0,299.4 L221.0,299.5 L220.0,299.7 L219.0,299.9 L218.0,300.1 L217.0,300.3 L216.0,300.4 L215.0,300.6 L214.0,300.8 L213.0,301.0 L212.0,301.2 L211.0,301.4 L210.0,301.5 L209.0,301.7 L208.0,301.9 L207.0,302.1 L206.0,302.3 L205.0,302.4 L204.0,302.6 L203.0,302.8 L202.0,303.0 L201.0,303.2 L200.0,303.4 L199.0,303.5 L198.0,303.7 L197.0,303.9 L196.0,304.1 L195.0,304.3 L194.0,304.5 L193.0,304.6 L192.0,304.8 L191.0,305.0 L190.0,305.2 L189.0,305.4 L188.0,305.5 L187.0,305.7 L186.0,305.9 L185.0,306.1 L184.0,306.3 L183.0,306.4 L182.0,306.6 L181.0,306.8 L180.0,306.9 L179.0,307.0 L178.0,307.2 L177.0,307.3 L176.0,307.4 L175.0,307.5 L174.0,307.6 L173.0,307.7 L172.0,307.8 L171.0,307.8 L170.0,307.9 L169.0,308.0 L168.0,308.1 L167.0,308.2 L166.0,308.3 L165.0,308.4 L164.0,308.5 L163.0,308.6 L162.0,308.7 L161.0,308.8 L160.0,308.9 L159.0,309.0 L158.0,309.1 L157.0,309.2 L156.0,309.3 L155.0,309.4 L154.0,309.5 L153.0,309.5 L152.0,309.6 L151.0,309.7 L150.0,309.8 L149.0,309.9 L148.0,310.0 L147.0,310.1 L146.0,310.1 L145.0,310.2 L144.0,310.2 L143.0,310.3 L142.0,310.3 L141.0,310.3 L140.0,310.3 L139.0,310.3 L138.0,310.3 L137.0,310.3 L136.0,310.3Z" fill="rgb(61,61,61)"/>
<path d="M136.0,289.1 L137.0,289.1 L138.0,289.1 L139.0,289.1 L140.0,289.1 L141.0,289.1 L142.0,289.1 L143.0,289.1 L144.0,289.0 L145.0,288.9 L146.0,288.8 L147.0,288.7 L148.0,288.5 L149.0,288.3 L150.0,288.1 L151.0,287.9 L152.0,287.7 L153.0,287.4 L154.0,287.2 L155.0,287.0 L156.0,286.8 L157.0,286.6 L158.0,286.4 L159.0,286.2 L160.0,286.0 L161.0,285.7 L162.0,285.5 L163.0,285.3 L164.0,285.1 L165.0,284.9 L166.0,284.7 L167.0,284.5 L168.0,284.3 L169.0,284.0 L170.0,283.8 L171.0,283.6 L172.0,283.4 L173.0,283.2 L174.0,283.0 L175.0,282.8 L176.0,282.6 L177.0,282.3 L178.0,282.1 L179.0,281.9 L180.0,281.6 L181.0,281.4 L182.0,281.1 L183.0,280.8 L184.0,280.6 L185.0,280.3 L186.0,280.0 L187.0,279.7 L188.0,279.4 L189.0,279.1 L190.0,278.8 L191.0,278.6 L192.0,278.3 L193.0,278.0 L194.0,277.7 L195.0,277.4 L196.0,277.1 L197.0,276.8 L198.0,276.6 L199.0,276.3 L200.0,276.0 L201.0,275.7 L202.0,275.4 L203.0,275.1 L204.0,274.8 L205.0,274.5 L206.0,274.3 L207.0,274.0 L208.0,273.7 L209.0,273.4 L210.0,273.1 L211.0,272.8 L212.0,272.5 L213.0,272.3 L214.0,272.0 L215.0,271.7 L216.0,271.4 L217.0,271.1 L218.0,270.8 L219.0,270.5 L220.0,270.3 L221.0,270.0 L222.0,269.7 L223.0,269.4 L224.0,269.1 L225.0,268.8 L226.0,268.5 L227.0,268.3 L228.0,268.0 L229.0,267.7 L230.0,267.5 L231.0,267.2 L232.0,266.9 L233.0,266.7 L234.0,266.5 L235.0,266.2 L236.0,266.0 L237.0,265.8 L238.0,265.5 L239.0,265.3 L240.0,265.1 L241.0,264.8 L242.0,264.6 L243.0,264.4 L244.0,264.1 L245.0,263.9 L246.0,263.7 L247.0,263.4 L248.0,263.2 L249.0,263.0 L250.0,262.7 L251.0,262.5 L252.0,262.3 L253.0,262.0 L254.0,261.8 L255.0,261.6 L256.0,261.3 L257.0,261.1 L258.0,260.9 L259.0,260.6 L260.0,260.4 L261.0,260.2 L262.0,259.9 L263.0,259.7 L264.0,259.5 L265.0,259.2 L266.0,259.0 L267.0,258.7 L268.0,258.5 L269.0,258.2 L270.0,257.9 L271.0,257.6 L272.0,257.3 L273.0,257.0 L274.0,256.7 L275.0,256.4 L276.0,256.0 L277.0,255.7 L278.0,255.3 L279.0,255.0 L280.0,254.7 L281.0,254.3 L282.0,254.0 L283.0,253.7 L284.0,253.3 L285.0,253.0 L286.0,252.6 L287.0,252.3 L288.0,252.0 L289.0,251.6 L290.0,251.3 L291.0,250.9 L292.0,250.6 L293.0,250.3 L294.0,249.9 L295.0,249.6 L296.0,249.3 L297.0,248.9 L298.0,248.5 L299.0,248.1 L300.0,247.7 L301.0,247.3 L302.0,246.9 L303.0,246.4 L304.0,245.9 L305.0,245.4 L306.0,245.0 L307.0,244.5 L308.0,244.0 L309.0,243.5 L310.0,243.0 L311.0,242.5 L312.0,242.0 L313.0,241.6 L314.0,241.1 L315.0,240.7 L316.0,240.3 L317.0,240.0 L318.0,239.7 L319.0,239.4 L320.0,239.1 L321.0,238.9 L322.0,238.6 L323.0,238.4 L324.0,238.1 L325.0,238.0 L326.0,237.9 L327.0,237.9 L328.0,238.0 L329.0,238.2 L330.0,238.4 L331.0,238.8 L332.0,239.2 L333.0,239.7 L334.0,240.2 L335.0,240.8 L336.0,241.4 L337.0,242.1 L338.0,242.8 L339.0,243.5 L340.0,244.3 L341.0,245.1 L342.0,246.0 L343.0,247.0 L344.0,248.0 L345.0,249.0 L346.0,250.1 L347.0,251.3 L348.0,252.4 L349.0,253.7 L350.0,254.9 L351.0,256.2 L352.0,257.6 L353.0,258.9 L354.0,260.2 L355.0,261.5 L356.0,262.7 L357.0,263.8 L358.0,264.9 L359.0,266.0 L360.0,267.0 L361.0,268.0 L362.0,268.9 L363.0,269.8 L364.0,270.7 L365.0,271.5 L366.0,272.4 L367.0,273.3 L368.0,274.1 L369.0,275.0 L370.0,275.8 L371.0,276.6 L372.0,277.4 L373.0,278.1 L374.0,278.7 L375.0,279.2 L376.0,279.6 L377.0,279.9 L378.0,280.1 L379.0,280.3 L380.0,280.3 L381.0,280.3 L382.0,280.3 L383.0,280.3 L384.0,280.2 L385.0,280.2 L386.0,280.2 L387.0,280.2 L388.0,280.2 L389.0,280.2 L390.0,280.1 L391.0,280.1 L392.0,280.1 L393.0,280.1 L394.0,280.1 L395.0,280.1 L396.0,280.1 L397.0,280.1 L398.0,280.1 L399.0,280.1 L400.0,280.2 L401.0,280.2 L402.0,280.2 L403.0,280.3 L404.0,280.3 L405.0,280.4 L406.0,280.4 L407.0,280.5 L408.0,280.5 L409.0,280.6 L410.0,280.6 L410.0,324.1 L409.0,324.1 L408.0,324.1 L407.0,324.1 L406.0,324.1 L405.0,324.1 L404.0,324.1 L403.0,324.1 L402.0,324.1 L401.0,324.0 L400.0,324.0 L399.0,324.0 L398.0,324.0 L397.0,324.0 L396.0,324.0 L395.0,324.0 L394.0,324.0 L393.0,324.0 L392.0,324.0 L391.0,324.0 L390.0,324.0 L389.0,324.0 L388.0,324.0 L387.0,324.0 L386.0,324.0 L385.0,324.0 L384.0,324.0 L383.0,324.0 L382.0,323.9 L381.0,323.9 L380.0,323.9 L379.0,323.9 L378.0,323.8 L377.0,323.7 L376.0,323.6 L375.0,323.4 L374.0,323.3 L373.0,323.0 L372.0,322.8 L371.0,322.5 L370.0,322.3 L369.0,322.0 L368.0,321.8 L367.0,321.7 L366.0,321.5 L365.0,321.4 L364.0,321.3 L363.0,321.2 L362.0,321.2 L361.0,321.1 L360.0,321.0 L359.0,320.9 L358.0,320.7 L357.0,320.6 L356.0,320.5 L355.0,320.3 L354.0,320.1 L353.0,319.9 L352.0,319.7 L351.0,319.5 L350.0,319.2 L349.0,318.9 L348.0,318.4 L347.0,317.9 L346.0,317.3 L345.0,316.5 L344.0,315.7 L343.0,314.8 L342.0,313.8 L341.0,312.6 L340.0,311.4 L339.0,310.2 L338.0,308.9 L337.0,307.5 L336.0,306.0 L335.0,304.5 L334.0,302.9 L333.0,301.2 L332.0,299.5 L331.0,298.0 L330.0,296.5 L329.0,295.2 L328.0,294.0 L327.0,293.0 L326.0,292.0 L325.0,291.2 L324.0,290.5 L323.0,290.0 L322.0,289.4 L321.0,288.9 L320.0,288.3 L319.0,287.8 L318.0,287.3 L317.0,286.9 L316.0,286.6 L315.0,286.3 L314.0,286.0 L313.0,285.9 L312.0,285.7 L311.0,285.6 L310.0,285.5 L309.0,285.5 L308.0,285.4 L307.0,285.3 L306.0,285.2 L305.0,285.1 L304.0,285.1 L303.0,285.0 L302.0,285.0 L301.0,285.0 L300.0,285.1 L299.0,285.2 L298.0,285.3 L297.0,285.4 L296.0,285.6 L295.0,285.8 L294.0,286.0 L293.0,286.2 L292.0,286.4 L291.0,286.6 L290.0,286.9 L289.0,287.1 L288.0,287.3 L287.0,287.5 L286.0,287.7 L285.0,287.9 L284.0,288.1 L283.0,288.3 L282.0,288.5 L281.0,288.7 L280.0,288.9 L279.0,289.2 L278.0,289.4 L277.0,289.6 L276.0,289.8 L275.0,290.0 L274.0,290.2 L273.0,290.4 L272.0,290.6 L271.0,290.8 L270.0,291.0 L269.0,291.1 L268.0,291.3 L267.0,291.5 L266.0,291.6 L265.0,291.7 L264.0,291.9 L263.0,292.0 L262.0,292.2 L261.0,292.3 L260.0,292.4 L259.0,292.6 L258.0,292.7 L257.0,292.9 L256.0,293.0 L255.0,293.1 L254.0,293.3 L253.0,293.4 L252.0,293.5 L251.0,293.7 L250.0,293.8 L249.0,294.0 L248.0,294.1 L247.0,294.2 L246.0,294.4 L245.0,294.5 L244.0,294.7 L243.0,294.8 L242.0,294.9 L241.0,295.1 L240.0,295.2 L239.0,295.4 L238.0,295.5 L237.0,295.6 L236.0,295.8 L235.0,295.9 L234.0,296.0 L233.0,296.2 L232.0,296.3 L231.0,296.5 L230.0,296.7 L229.0,296.8 L228.0,297.0 L227.0,297.2 L226.0,297.4 L225.0,297.6 L224.0,297.7 L223.0,297.9 L222.0,298.1 L221.0,298.3 L220.0,298.5 L219.0,298.7 L218.0,298.9 L217.0,299.1 L216.0,299.3 L215.0,299.5 L214.0,299.7 L213.0,299.8 L212.0,300.0 L211.0,300.2 L210.0,300.4 L209.0,300.6 L208.0,300.8 L207.0,301.0 L206.0,301.2 L205.0,301.4 L204.0,301.6 L203.0,301.8 L202.0,301.9 L201.0,302.1 L200.0,302.3 L199.0,302.5 L198.0,302.7 L197.0,302.9 L196.0,303.1 L195.0,303.3 L194.0,303.5 L193.0,303.7 L192.0,303.9 L191.0,304.0 L190.0,304.2 L189.0,304.4 L188.0,304.6 L187.0,304.8 L186.0,305.0 L185.0,305.2 L184.0,305.4 L183.0,305.6 L182.0,305.7 L181.0,305.9 L180.0,306.0 L179.0,306.2 L178.0,306.3 L177.0,306.4 L176.0,306.5 L175.0,306.6 L174.0,306.7 L173.0,306.8 L172.0,306.9 L171.0,307.0 L170.0,307.1 L169.0,307.2 L168.0,307.3 L167.0,307.4 L166.0,307.4 L165.0,307.5 L164.0,307.6 L163.0,307.7 L162.0,307.8 L161.0,307.9 L160.0,308.0 L159.0,308.1 L158.0,308.2 L157.0,308.3 L156.0,308.4 L155.0,308.5 L154.0,308.6 L153.0,308.7 L152.0,308.8 L151.0,308.8 L150.0,308.9 L149.0,309.0 L148.0,309.1 L147.0,309.2 L146.0,309.2 L145.0,309.3 L144.0,309.3 L143.0,309.4 L142.0,309.4 L141.0,309.4 L140.0,309.4 L139.0,309.4 L138.0,309.4 L137.0,309.4 L136.0,309.4Z" fill="rgb(82,82,82)"/>
<path d="M136.0,290.3 L137.0,290.3 L138.0,290.3 L139.0,290.3 L140.0,290.3 L141.0,290.3 L142.0,290.3 L143.0,290.2 L144.0,290.2 L145.0,290.1 L146.0,290.0 L147.0,289.8 L148.0,289.7 L149.0,289.5 L150.0,289.3 L151.0,289.0 L152.0,288.8 L153.0,288.6 L154.0,288.4 L155.0,288.2 L156.0,288.0 L157.0,287.8 L158.0,287.6 L159.0,287.4 L160.0,287.2 L161.0,287.0 L162.0,286.8 L163.0,286.5 L164.0,286.3 L165.0,286.1 L166.0,285.9 L167.0,285.7 L168.0,285.5 L169.0,285.3 L170.0,285.1 L171.0,284.9 L172.0,284.7 L173.0,284.5 L174.0,284.3 L175.0,284.0 L176.0,283.8 L177.0,283.6 L178.0,283.4 L179.0,283.2 L180.0,282.9 L181.0,282.7 L182.0,282.4 L183.0,282.1 L184.0,281.9 L185.0,281.6 L186.0,281.3 L187.0,281.0 L188.0,280.7 L189.0,280.4 L190.0,280.1 L191.0,279.9 L192.0,279.6 L193.0,279.3 L194.0,279.0 L195.0,278.7 L196.0,278.4 L197.0,278.1 L198.0,277.9 L199.0,277.6 L200.0,277.3 L201.0,277.0 L202.0,276.7 L203.0,276.4 L204.0,276.1 L205.0,275.8 L206.0,275.6 L207.0,275.3 L208.0,275.0 L209.0,274.7 L210.0,274.4 L211.0,274.1 L212.0,273.8 L213.0,273.6 L214.0,273.3 L215.0,273.0 L216.0,272.7 L217.0,272.4 L218.0,272.1 L219.0,271.8 L220.0,271.6 L221.0,271.3 L222.0,271.0 L223.0,270.7 L224.0,270.4 L225.0,270.1 L226.0,269.8 L227.0,269.6 L228.0,269.3 L229.0,269.0 L230.0,268.8 L231.0,268.5 L232.0,268.3 L233.0,268.0 L234.0,267.8 L235.0,267.6 L236.0,267.4 L237.0,267.1 L238.0,266.9 L239.0,266.7 L240.0,266.5 L241.0,266.3 L242.0,266.0 L243.0,265.8 L244.0,265.6 L245.0,265.4 L246.0,265.1 L247.0,264.9 L248.0,264.7 L249.0,264.5 L250.0,264.2 L251.0,264.0 L252.0,263.8 L253.0,263.6 L254.0,263.4 L255.0,263.1 L256.0,262.9 L257.0,262.7 L258.0,262.5 L259.0,262.2 L260.0,262.0 L261.0,261.8 L262.0,261.6 L263.0,261.4 L264.0,261.1 L265.0,260.9 L266.0,260.7 L267.0,260.5 L268.0,260.2 L269.0,259.9 L270.0,259.7 L271.0,259.4 L272.0,259.1 L273.0,258.8 L274.0,258.5 L275.0,258.1 L276.0,257.8 L277.0,257.4 L278.0,257.1 L279.0,256.8 L280.0,256.4 L281.0,256.1 L282.0,255.8 L283.0,255.4 L284.0,255.1 L285.0,254.8 L286.0,254.4 L287.0,254.1 L288.0,253.7 L289.0,253.4 L290.0,253.1 L291.0,252.7 L292.0,252.4 L293.0,252.1 L294.0,251.7 L295.0,251.4 L296.0,251.0 L297.0,250.7 L298.0,250.3 L299.0,249.9 L300.0,249.5 L301.0,249.1 L302.0,248.7 L303.0,248.2 L304.0,247.7 L305.0,247.2 L306.0,246.7 L307.0,246.2 L308.0,245.8 L309.0,245.3 L310.0,244.8 L311.0,244.3 L312.0,243.8 L313.0,243.3 L314.0,242.9 L315.0,242.5 L316.0,242.1 L317.0,241.7 L318.0,241.4 L319.0,241.1 L320.0,240.9 L321.0,240.6 L322.0,240.4 L323.0,240.1 L324.0,239.9 L325.0,239.7 L326.0,239.7 L327.0,239.7 L328.0,239.8 L329.0,240.0 L330.0,240.3 L331.0,240.7 L332.0,241.2 L333.0,241.7 L334.0,242.3 L335.0,242.9 L336.0,243.5 L337.0,244.2 L338.0,245.0 L339.0,245.8 L340.0,246.6 L341.0,247.5 L342.0,248.5 L343.0,249.5 L344.0,250.6 L345.0,251.7 L346.0,252.9 L347.0,254.1 L348.0,255.4 L349.0,256.7 L350.0,258.0 L351.0,259.5 L352.0,260.9 L353.0,262.3 L354.0,263.7 L355.0,265.0 L356.0,266.3 L357.0,267.4 L358.0,268.5 L359.0,269.6 L360.0,270.5 L361.0,271.4 L362.0,272.2 L363.0,273.0 L364.0,273.8 L365.0,274.6 L366.0,275.4 L367.0,276.1 L368.0,276.8 L369.0,277.6 L370.0,278.3 L371.0,278.9 L372.0,279.6 L373.0,280.2 L374.0,280.7 L375.0,281.1 L376.0,281.4 L377.0,281.7 L378.0,281.9 L379.0,282.0 L380.0,282.1 L381.0,282.1 L382.0,282.1 L383.0,282.1 L384.0,282.1 L385.0,282.1 L386.0,282.1 L387.0,282.0 L388.0,282.0 L389.0,282.0 L390.0,282.0 L391.0,282.0 L392.0,282.0 L393.0,282.0 L394.0,282.0 L395.0,282.0 L396.0,282.0 L397.0,282.1 L398.0,282.1 L399.0,282.1 L400.0,282.2 L401.0,282.2 L402.0,282.3 L403.0,282.3 L404.0,282.4 L405.0,282.4 L406.0,282.5 L407.0,282.5 L408.0,282.6 L409.0,282.6 L410.0,282.6 L410.0,321.9 L409.0,321.9 L408.0,321.9 L407.0,321.9 L406.0,321.9 L405.0,321.9 L404.0,321.9 L403.0,321.9 L402.0,321.9 L401.0,321.9 L400.0,321.9 L399.0,321.9 L398.0,321.9 L397.0,321.9 L396.0,321.8 L395.0,321.8 L394.0,321.8 L393.0,321.7 L392.0,321.7 L391.0,321.7 L390.0,321.6 L389.0,321.6 L388.0,321.6 L387.0,321.5 L386.0,321.5 L385.0,321.4 L384.0,321.4 L383.0,321.4 L382.0,321.3 L381.0,321.3 L380.0,321.3 L379.0,321.2 L378.0,321.1 L377.0,321.0 L376.0,320.8 L375.0,320.6 L374.0,320.4 L373.0,320.2 L372.0,319.9 L371.0,319.6 L370.0,319.3 L369.0,319.1 L368.0,318.9 L367.0,318.7 L366.0,318.5 L365.0,318.4 L364.0,318.3 L363.0,318.2 L362.0,318.2 L361.0,318.1 L360.0,318.0 L359.0,317.9 L358.0,317.8 L357.0,317.6 L356.0,317.5 L355.0,317.3 L354.0,317.1 L353.0,317.0 L352.0,316.8 L351.0,316.6 L350.0,316.3 L349.0,316.0 L348.0,315.6 L347.0,315.1 L346.0,314.5 L345.0,313.8 L344.0,313.1 L343.0,312.2 L342.0,311.3 L341.0,310.2 L340.0,309.0 L339.0,307.8 L338.0,306.5 L337.0,305.1 L336.0,303.6 L335.0,302.1 L334.0,300.4 L333.0,298.7 L332.0,297.0 L331.0,295.4 L330.0,293.9 L329.0,292.6 L328.0,291.4 L327.0,290.3 L326.0,289.4 L325.0,288.6 L324.0,287.9 L323.0,287.4 L322.0,286.9 L321.0,286.4 L320.0,285.9 L319.0,285.5 L318.0,285.0 L317.0,284.7 L316.0,284.4 L315.0,284.1 L314.0,283.9 L313.0,283.7 L312.0,283.6 L311.0,283.6 L310.0,283.5 L309.0,283.5 L308.0,283.4 L307.0,283.4 L306.0,283.3 L305.0,283.3 L304.0,283.2 L303.0,283.2 L302.0,283.2 L301.0,283.2 L300.0,283.3 L299.0,283.4 L298.0,283.5 L297.0,283.7 L296.0,283.9 L295.0,284.1 L294.0,284.3 L293.0,284.6 L292.0,284.8 L291.0,285.0 L290.0,285.2 L289.0,285.5 L288.0,285.7 L287.0,285.9 L286.0,286.1 L285.0,286.3 L284.0,286.6 L283.0,286.8 L282.0,287.0 L281.0,287.2 L280.0,287.5 L279.0,287.7 L278.0,287.9 L277.0,288.1 L276.0,288.4 L275.0,288.6 L274.0,288.8 L273.0,289.0 L272.0,289.2 L271.0,289.4 L270.0,289.6 L269.0,289.8 L268.0,290.0 L267.0,290.1 L266.0,290.3 L265.0,290.4 L264.0,290.5 L263.0,290.7 L262.0,290.8 L261.0,291.0 L260.0,291.1 L259.0,291.2 L258.0,291.4 L257.0,291.5 L256.0,291.7 L255.0,291.8 L254.0,291.9 L253.0,292.1 L252.0,292.2 L251.0,292.4 L250.0,292.5 L249.0,292.6 L248.0,292.8 L247.0,292.9 L246.0,293.1 L245.0,293.2 L244.0,293.3 L243.0,293.5 L242.0,293.6 L241.0,293.8 L240.0,293.9 L239.0,294.0 L238.0,294.2 L237.0,294.3 L236.0,294.5 L235.0,294.6 L234.0,294.7 L233.0,294.9 L232.0,295.0 L231.0,295.2 L230.0,295.4 L229.0,295.5 L228.0,295.7 L227.0,295.9 L226.0,296.1 L225.0,296.3 L224.0,296.5 L223.0,296.7 L222.0,296.9 L221.0,297.1 L220.0,297.3 L219.0,297.5 L218.0,297.7 L217.0,297.9 L216.0,298.1 L215.0,298.3 L214.0,298.5 L213.0,298.7 L212.0,298.9 L211.0,299.1 L210.0,299.3 L209.0,299.5 L208.0,299.7 L207.0,299.9 L206.0,300.1 L205.0,300.3 L204.0,300.5 L203.0,300.7 L202.0,300.9 L201.0,301.1 L200.0,301.3 L199.0,301.5 L198.0,301.7 L197.0,301.9 L196.0,302.1 L195.0,302.3 L194.0,302.5 L193.0,302.7 L192.0,302.9 L191.0,303.1 L190.0,303.3 L189.0,303.5 L188.0,303.7 L187.0,303.9 L186.0,304.1 L185.0,304.3 L184.0,304.5 L183.0,304.7 L182.0,304.9 L181.0,305.0 L180.0,305.2 L179.0,305.3 L178.0,305.4 L177.0,305.6 L176.0,305.7 L175.0,305.8 L174.0,305.8 L173.0,305.9 L172.0,306.0 L171.0,306.1 L170.0,306.2 L169.0,306.3 L168.0,306.4 L167.0,306.5 L166.0,306.6 L165.0,306.7 L164.0,306.8 L163.0,306.9 L162.0,306.9 L161.0,307.0 L160.0,307.1 L159.0,307.2 L158.0,307.3 L157.0,307.4 L156.0,307.5 L155.0,307.6 L154.0,307.7 L153.0,307.8 L152.0,307.9 L151.0,308.0 L150.0,308.0 L149.0,308.1 L148.0,308.2 L147.0,308.3 L146.0,308.3 L145.0,308.4 L144.0,308.4 L143.0,308.5 L142.0,308.5 L141.0,308.5 L140.0,308.5 L139.0,308.5 L138.0,308.5 L137.0,308.5 L136.0,308.5Z" fill="rgb(102,102,102)"/>
<path d="M136.0,291.2 L137.0,291.2 L138.0,291.2 L139.0,291.2 L140.0,291.2 L141.0,291.2 L142.0,291.2 L143.0,291.1 L144.0,291.1 L145.0,291.0 L146.0,290.9 L147.0,290.7 L148.0,290.5 L149.0,290.4 L150.0,290.1 L151.0,289.9 L152.0,289.7 L153.0,289.5 L154.0,289.3 L155.0,289.1 L156.0,288.9 L157.0,288.7 L158.0,288.5 L159.0,288.3 L160.0,288.0 L161.0,287.8 L162.0,287.6 L163.0,287.4 L164.0,287.2 L165.0,287.0 L166.0,286.8 L167.0,286.6 L168.0,286.4 L169.0,286.2 L170.0,285.9 L171.0,285.7 L172.0,285.5 L173.0,285.3 L174.0,285.1 L175.0,284.9 L176.0,284.7 L177.0,284.5 L178.0,284.2 L179.0,284.0 L180.0,283.8 L181.0,283.5 L182.0,283.3 L183.0,283.0 L184.0,282.7 L185.0,282.5 L186.0,282.2 L187.0,281.9 L188.0,281.6 L189.0,281.4 L190.0,281.1 L191.0,280.8 L192.0,280.5 L193.0,280.3 L194.0,280.0 L195.0,279.7 L196.0,279.4 L197.0,279.2 L198.0,278.9 L199.0,278.6 L200.0,278.3 L201.0,278.1 L202.0,277.8 L203.0,277.5 L204.0,277.2 L205.0,276.9 L206.0,276.7 L207.0,276.4 L208.0,276.1 L209.0,275.8 L210.0,275.6 L211.0,275.3 L212.0,275.0 L213.0,274.7 L214.0,274.5 L215.0,274.2 L216.0,273.9 L217.0,273.6 L218.0,273.4 L219.0,273.1 L220.0,272.8 L221.0,272.5 L222.0,272.3 L223.0,272.0 L224.0,271.7 L225.0,271.4 L226.0,271.2 L227.0,270.9 L228.0,270.6 L229.0,270.4 L230.0,270.1 L231.0,269.9 L232.0,269.6 L233.0,269.4 L234.0,269.2 L235.0,268.9 L236.0,268.7 L237.0,268.5 L238.0,268.3 L239.0,268.0 L240.0,267.8 L241.0,267.6 L242.0,267.4 L243.0,267.1 L244.0,266.9 L245.0,266.7 L246.0,266.5 L247.0,266.2 L248.0,266.0 L249.0,265.8 L250.0,265.6 L251.0,265.4 L252.0,265.1 L253.0,264.9 L254.0,264.7 L255.0,264.5 L256.0,264.2 L257.0,264.0 L258.0,263.8 L259.0,263.6 L260.0,263.3 L261.0,263.1 L262.0,262.9 L263.0,262.7 L264.0,262.4 L265.0,262.2 L266.0,262.0 L267.0,261.8 L268.0,261.5 L269.0,261.2 L270.0,261.0 L271.0,260.7 L272.0,260.4 L273.0,260.0 L274.0,259.7 L275.0,259.3 L276.0,259.0 L277.0,258.6 L278.0,258.3 L279.0,257.9 L280.0,257.6 L281.0,257.2 L282.0,256.9 L283.0,256.5 L284.0,256.2 L285.0,255.8 L286.0,255.5 L287.0,255.1 L288.0,254.8 L289.0,254.4 L290.0,254.1 L291.0,253.7 L292.0,253.4 L293.0,253.0 L294.0,252.7 L295.0,252.3 L296.0,252.0 L297.0,251.6 L298.0,251.2 L299.0,250.8 L300.0,250.4 L301.0,250.0 L302.0,249.5 L303.0,249.1 L304.0,248.6 L305.0,248.1 L306.0,247.6 L307.0,247.1 L308.0,246.6 L309.0,246.1 L310.0,245.6 L311.0,245.1 L312.0,244.6 L313.0,244.2 L314.0,243.8 L315.0,243.4 L316.0,243.0 L317.0,242.7 L318.0,242.4 L319.0,242.1 L320.0,241.9 L321.0,241.7 L322.0,241.5 L323.0,241.3 L324.0,241.1 L325.0,241.0 L326.0,240.9 L327.0,241.0 L328.0,241.1 L329.0,241.3 L330.0,241.6 L331.0,242.0 L332.0,242.4 L333.0,242.9 L334.0,243.4 L335.0,244.0 L336.0,244.7 L337.0,245.4 L338.0,246.1 L339.0,247.0 L340.0,247.9 L341.0,248.8 L342.0,249.8 L343.0,250.9 L344.0,252.0 L345.0,253.2 L346.0,254.5 L347.0,255.8 L348.0,257.1 L349.0,258.5 L350.0,260.0 L351.0,261.5 L352.0,263.0 L353.0,264.6 L354.0,266.0 L355.0,267.4 L356.0,268.7 L357.0,269.9 L358.0,271.0 L359.0,272.1 L360.0,273.0 L361.0,273.9 L362.0,274.7 L363.0,275.4 L364.0,276.2 L365.0,276.9 L366.0,277.6 L367.0,278.3 L368.0,278.9 L369.0,279.6 L370.0,280.2 L371.0,280.8 L372.0,281.4 L373.0,281.9 L374.0,282.3 L375.0,282.6 L376.0,283.0 L377.0,283.2 L378.0,283.4 L379.0,283.5 L380.0,283.6 L381.0,283.6 L382.0,283.6 L383.0,283.6 L384.0,283.7 L385.0,283.7 L386.0,283.7 L387.0,283.7 L388.0,283.7 L389.0,283.7 L390.0,283.8 L391.0,283.8 L392.0,283.8 L393.0,283.8 L394.0,283.8 L395.0,283.9 L396.0,283.9 L397.0,283.9 L398.0,284.0 L399.0,284.0 L400.0,284.1 L401.0,284.1 L402.0,284.2 L403.0,284.3 L404.0,284.3 L405.0,284.4 L406.0,284.4 L407.0,284.5 L408.0,284.6 L409.0,284.6 L410.0,284.6 L410.0,321.2 L409.0,321.2 L408.0,321.2 L407.0,321.2 L406.0,321.2 L405.0,321.2 L404.0,321.2 L403.0,321.2 L402.0,321.2 L401.0,321.1 L400.0,321.1 L399.0,321.1 L398.0,321.1 L397.0,321.1 L396.0,321.1 L395.0,321.1 L394.0,321.0 L393.0,321.0 L392.0,321.0 L391.0,320.9 L390.0,320.9 L389.0,320.8 L388.0,320.8 L387.0,320.8 L386.0,320.7 L385.0,320.7 L384.0,320.7 L383.0,320.6 L382.0,320.6 L381.0,320.5 L380.0,320.5 L379.0,320.4 L378.0,320.3 L377.0,320.2 L376.0,320.0 L375.0,319.8 L374.0,319.5 L373.0,319.3 L372.0,318.9 L371.0,318.6 L370.0,318.3 L369.0,318.0 L368.0,317.8 L367.0,317.5 L366.0,317.4 L365.0,317.2 L364.0,317.1 L363.0,317.0 L362.0,316.9 L361.0,316.8 L360.0,316.7 L359.0,316.6 L358.0,316.4 L357.0,316.3 L356.0,316.1 L355.0,316.0 L354.0,315.8 L353.0,315.6 L352.0,315.4 L351.0,315.2 L350.0,315.0 L349.0,314.7 L348.0,314.2 L347.0,313.7 L346.0,313.1 L345.0,312.4 L344.0,311.6 L343.0,310.7 L342.0,309.8 L341.0,308.7 L340.0,307.5 L339.0,306.2 L338.0,304.9 L337.0,303.5 L336.0,302.0 L335.0,300.4 L334.0,298.7 L333.0,297.0 L332.0,295.2 L331.0,293.6 L330.0,292.1 L329.0,290.7 L328.0,289.5 L327.0,288.5 L326.0,287.5 L325.0,286.8 L324.0,286.1 L323.0,285.6 L322.0,285.1 L321.0,284.6 L320.0,284.1 L319.0,283.7 L318.0,283.3 L317.0,283.0 L316.0,282.7 L315.0,282.4 L314.0,282.2 L313.0,282.1 L312.0,282.0 L311.0,282.0 L310.0,281.9 L309.0,281.9 L308.0,281.9 L307.0,281.8 L306.0,281.8 L305.0,281.8 L304.0,281.8 L303.0,281.8 L302.0,281.8 L301.0,281.8 L300.0,281.9 L299.0,282.0 L298.0,282.2 L297.0,282.4 L296.0,282.5 L295.0,282.8 L294.0,283.0 L293.0,283.2 L292.0,283.5 L291.0,283.7 L290.0,283.9 L289.0,284.1 L288.0,284.4 L287.0,284.6 L286.0,284.8 L285.0,285.0 L284.0,285.2 L283.0,285.5 L282.0,285.7 L281.0,285.9 L280.0,286.1 L279.0,286.4 L278.0,286.6 L277.0,286.8 L276.0,287.0 L275.0,287.3 L274.0,287.5 L273.0,287.7 L272.0,287.9 L271.0,288.1 L270.0,288.3 L269.0,288.5 L268.0,288.6 L267.0,288.8 L266.0,289.0 L265.0,289.1 L264.0,289.2 L263.0,289.4 L262.0,289.5 L261.0,289.6 L260.0,289.8 L259.0,289.9 L258.0,290.1 L257.0,290.2 L256.0,290.3 L255.0,290.5 L254.0,290.6 L253.0,290.8 L252.0,290.9 L251.0,291.0 L250.0,291.2 L249.0,291.3 L248.0,291.5 L247.0,291.6 L246.0,291.7 L245.0,291.9 L244.0,292.0 L243.0,292.1 L242.0,292.3 L241.0,292.4 L240.0,292.6 L239.0,292.7 L238.0,292.8 L237.0,293.0 L236.0,293.1 L235.0,293.3 L234.0,293.4 L233.0,293.5 L232.0,293.7 L231.0,293.9 L230.0,294.0 L229.0,294.2 L228.0,294.4 L227.0,294.6 L226.0,294.8 L225.0,295.0 L224.0,295.2 L223.0,295.4 L222.0,295.6 L221.0,295.8 L220.0,296.0 L219.0,296.2 L218.0,296.5 L217.0,296.7 L216.0,296.9 L215.0,297.1 L214.0,297.3 L213.0,297.5 L212.0,297.7 L211.0,297.9 L210.0,298.1 L209.0,298.3 L208.0,298.5 L207.0,298.8 L206.0,299.0 L205.0,299.2 L204.0,299.4 L203.0,299.6 L202.0,299.8 L201.0,300.0 L200.0,300.2 L199.0,300.4 L198.0,300.6 L197.0,300.8 L196.0,301.1 L195.0,301.3 L194.0,301.5 L193.0,301.7 L192.0,301.9 L191.0,302.1 L190.0,302.3 L189.0,302.5 L188.0,302.7 L187.0,302.9 L186.0,303.1 L185.0,303.4 L184.0,303.6 L183.0,303.8 L182.0,303.9 L181.0,304.1 L180.0,304.3 L179.0,304.4 L178.0,304.5 L177.0,304.7 L176.0,304.8 L175.0,304.9 L174.0,305.0 L173.0,305.0 L172.0,305.1 L171.0,305.2 L170.0,305.3 L169.0,305.4 L168.0,305.5 L167.0,305.6 L166.0,305.7 L165.0,305.8 L164.0,305.9 L163.0,306.0 L162.0,306.1 L161.0,306.2 L160.0,306.3 L159.0,306.3 L158.0,306.4 L157.0,306.5 L156.0,306.6 L155.0,306.7 L154.0,306.8 L153.0,306.9 L152.0,307.0 L151.0,307.1 L150.0,307.2 L149.0,307.3 L148.0,307.4 L147.0,307.4 L146.0,307.5 L145.0,307.5 L144.0,307.6 L143.0,307.6 L142.0,307.6 L141.0,307.6 L140.0,307.6 L139.0,307.6 L138.0,307.6 L137.0,307.6 L136.0,307.6Z" fill="rgb(120,120,120)"/>
<path d="M136.0,292.1 L137.0,292.1 L138.0,292.1 L139.0,292.1 L140.0,292.1 L141.0,292.1 L142.0,292.1 L143.0,292.0 L144.0,292.0 L145.0,291.9 L146.0,291.7 L147.0,291.6 L148.0,291.4 L149.0,291.3 L150.0,291.0 L151.0,290.8 L152.0,290.6 L153.0,290.4 L154.0,290.2 L155.0,290.0 L156.0,289.8 L157.0,289.6 L158.0,289.4 L159.0,289.1 L160.0,288.9 L161.0,288.7 L162.0,288.5 L163.0,288.3 L164.0,288.1 L165.0,287.9 L166.0,287.7 L167.0,287.4 L168.0,287.2 L169.0,287.0 L170.0,286.8 L171.0,286.6 L172.0,286.4 L173.0,286.2 L174.0,286.0 L175.0,285.8 L176.0,285.5 L177.0,285.3 L178.0,285.1 L179.0,284.9 L180.0,284.6 L181.0,284.4 L182.0,284.1 L183.0,283.9 L184.0,283.6 L185.0,283.4 L186.0,283.1 L187.0,282.8 L188.0,282.6 L189.0,282.3 L190.0,282.0 L191.0,281.8 L192.0,281.5 L193.0,281.2 L194.0,281.0 L195.0,280.7 L196.0,280.4 L197.0,280.2 L198.0,279.9 L199.0,279.6 L200.0,279.4 L201.0,279.1 L202.0,278.8 L203.0,278.6 L204.0,278.3 L205.0,278.0 L206.0,277.8 L207.0,277.5 L208.0,277.3 L209.0,277.0 L210.0,276.7 L211.0,276.5 L212.0,276.2 L213.0,275.9 L214.0,275.7 L215.0,275.4 L216.0,275.1 L217.0,274.9 L218.0,274.6 L219.0,274.3 L220.0,274.1 L221.0,273.8 L222.0,273.5 L223.0,273.3 L224.0,273.0 L225.0,272.7 L226.0,272.5 L227.0,272.2 L228.0,271.9 L229.0,271.7 L230.0,271.4 L231.0,271.2 L232.0,271.0 L233.0,270.7 L234.0,270.5 L235.0,270.3 L236.0,270.0 L237.0,269.8 L238.0,269.6 L239.0,269.4 L240.0,269.1 L241.0,268.9 L242.0,268.7 L243.0,268.5 L244.0,268.2 L245.0,268.0 L246.0,267.8 L247.0,267.6 L248.0,267.3 L249.0,267.1 L250.0,266.9 L251.0,266.7 L252.0,266.4 L253.0,266.2 L254.0,266.0 L255.0,265.8 L256.0,265.5 L257.0,265.3 L258.0,265.1 L259.0,264.9 L260.0,264.6 L261.0,264.4 L262.0,264.2 L263.0,264.0 L264.0,263.8 L265.0,263.5 L266.0,263.3 L267.0,263.1 L268.0,262.8 L269.0,262.5 L270.0,262.2 L271.0,261.9 L272.0,261.6 L273.0,261.3 L274.0,260.9 L275.0,260.6 L276.0,260.2 L277.0,259.8 L278.0,259.5 L279.0,259.1 L280.0,258.7 L281.0,258.4 L282.0,258.0 L283.0,257.6 L284.0,257.3 L285.0,256.9 L286.0,256.5 L287.0,256.2 L288.0,255.8 L289.0,255.4 L290.0,255.1 L291.0,254.7 L292.0,254.3 L293.0,254.0 L294.0,253.6 L295.0,253.2 L296.0,252.9 L297.0,252.5 L298.0,252.1 L299.0,251.7 L300.0,251.3 L301.0,250.8 L302.0,250.4 L303.0,249.9 L304.0,249.4 L305.0,248.9 L306.0,248.4 L307.0,247.9 L308.0,247.5 L309.0,247.0 L310.0,246.5 L311.0,246.0 L312.0,245.5 L313.0,245.0 L314.0,244.6 L315.0,244.2 L316.0,243.9 L317.0,243.6 L318.0,243.4 L319.0,243.1 L320.0,242.9 L321.0,242.8 L322.0,242.6 L323.0,242.5 L324.0,242.3 L325.0,242.2 L326.0,242.2 L327.0,242.3 L328.0,242.4 L329.0,242.6 L330.0,242.9 L331.0,243.3 L332.0,243.7 L333.0,244.1 L334.0,244.6 L335.0,245.2 L336.0,245.8 L337.0,246.5 L338.0,247.3 L339.0,248.2 L340.0,249.1 L341.0,250.1 L342.0,251.1 L343.0,252.3 L344.0,253.5 L345.0,254.8 L346.0,256.1 L347.0,257.5 L348.0,258.9 L349.0,260.4 L350.0,261.9 L351.0,263.5 L352.0,265.2 L353.0,266.8 L354.0,268.3 L355.0,269.8 L356.0,271.2 L357.0,272.4 L358.0,273.5 L359.0,274.6 L360.0,275.5 L361.0,276.4 L362.0,277.1 L363.0,277.8 L364.0,278.5 L365.0,279.2 L366.0,279.8 L367.0,280.4 L368.0,281.0 L369.0,281.6 L370.0,282.1 L371.0,282.7 L372.0,283.1 L373.0,283.5 L374.0,283.9 L375.0,284.2 L376.0,284.5 L377.0,284.7 L378.0,284.9 L379.0,285.0 L380.0,285.1 L381.0,285.1 L382.0,285.2 L383.0,285.2 L384.0,285.2 L385.0,285.3 L386.0,285.3 L387.0,285.4 L388.0,285.4 L389.0,285.5 L390.0,285.5 L391.0,285.5 L392.0,285.6 L393.0,285.6 L394.0,285.7 L395.0,285.7 L396.0,285.8 L397.0,285.8 L398.0,285.9 L399.0,285.9 L400.0,286.0 L401.0,286.1 L402.0,286.1 L403.0,286.2 L404.0,286.3 L405.0,286.3 L406.0,286.4 L407.0,286.5 L408.0,286.5 L409.0,286.6 L410.0,286.6 L410.0,320.4 L409.0,320.4 L408.0,320.4 L407.0,320.4 L406.0,320.4 L405.0,320.4 L404.0,320.4 L403.0,320.4 L402.0,320.4 L401.0,320.4 L400.0,320.4 L399.0,320.4 L398.0,320.4 L397.0,320.4 L396.0,320.3 L395.0,320.3 L394.0,320.3 L393.0,320.2 L392.0,320.2 L391.0,320.2 L390.0,320.1 L389.0,320.1 L388.0,320.1 L387.0,320.0 L386.0,320.0 L385.0,319.9 L384.0,319.9 L383.0,319.9 L382.0,319.8 L381.0,319.8 L380.0,319.8 L379.0,319.7 L378.0,319.6 L377.0,319.4 L376.0,319.2 L375.0,319.0 L374.0,318.7 L373.0,318.4 L372.0,318.0 L371.0,317.6 L370.0,317.2 L369.0,316.9 L368.0,316.6 L367.0,316.4 L366.0,316.2 L365.0,316.0 L364.0,315.9 L363.0,315.7 L362.0,315.6 L361.0,315.5 L360.0,315.4 L359.0,315.3 L358.0,315.1 L357.0,315.0 L356.0,314.8 L355.0,314.6 L354.0,314.5 L353.0,314.3 L352.0,314.1 L351.0,313.9 L350.0,313.6 L349.0,313.3 L348.0,312.9 L347.0,312.3 L346.0,311.7 L345.0,311.0 L344.0,310.2 L343.0,309.3 L342.0,308.3 L341.0,307.2 L340.0,306.0 L339.0,304.7 L338.0,303.3 L337.0,301.9 L336.0,300.3 L335.0,298.7 L334.0,297.0 L333.0,295.2 L332.0,293.4 L331.0,291.8 L330.0,290.3 L329.0,288.9 L328.0,287.7 L327.0,286.6 L326.0,285.7 L325.0,284.9 L324.0,284.3 L323.0,283.8 L322.0,283.3 L321.0,282.8 L320.0,282.4 L319.0,281.9 L318.0,281.6 L317.0,281.2 L316.0,281.0 L315.0,280.7 L314.0,280.6 L313.0,280.5 L312.0,280.4 L311.0,280.4 L310.0,280.4 L309.0,280.4 L308.0,280.4 L307.0,280.3 L306.0,280.3 L305.0,280.3 L304.0,280.3 L303.0,280.3 L302.0,280.4 L301.0,280.5 L300.0,280.6 L299.0,280.7 L298.0,280.8 L297.0,281.0 L296.0,281.2 L295.0,281.4 L294.0,281.7 L293.0,281.9 L292.0,282.1 L291.0,282.3 L290.0,282.6 L289.0,282.8 L288.0,283.0 L287.0,283.2 L286.0,283.5 L285.0,283.7 L284.0,283.9 L283.0,284.2 L282.0,284.4 L281.0,284.6 L280.0,284.8 L279.0,285.1 L278.0,285.3 L277.0,285.5 L276.0,285.7 L275.0,286.0 L274.0,286.2 L273.0,286.4 L272.0,286.6 L271.0,286.8 L270.0,287.0 L269.0,287.2 L268.0,287.3 L267.0,287.5 L266.0,287.7 L265.0,287.8 L264.0,287.9 L263.0,288.1 L262.0,288.2 L261.0,288.3 L260.0,288.5 L259.0,288.6 L258.0,288.8 L257.0,288.9 L256.0,289.0 L255.0,289.2 L254.0,289.3 L253.0,289.4 L252.0,289.6 L251.0,289.7 L250.0,289.8 L249.0,290.0 L248.0,290.1 L247.0,290.3 L246.0,290.4 L245.0,290.5 L244.0,290.7 L243.0,290.8 L242.0,291.0 L241.0,291.1 L240.0,291.2 L239.0,291.4 L238.0,291.5 L237.0,291.6 L236.0,291.8 L235.0,291.9 L234.0,292.1 L233.0,292.2 L232.0,292.4 L231.0,292.5 L230.0,292.7 L229.0,292.9 L228.0,293.1 L227.0,293.3 L226.0,293.5 L225.0,293.7 L224.0,293.9 L223.0,294.1 L222.0,294.3 L221.0,294.6 L220.0,294.8 L219.0,295.0 L218.0,295.2 L217.0,295.4 L216.0,295.7 L215.0,295.9 L214.0,296.1 L213.0,296.3 L212.0,296.5 L211.0,296.7 L210.0,297.0 L209.0,297.2 L208.0,297.4 L207.0,297.6 L206.0,297.8 L205.0,298.1 L204.0,298.3 L203.0,298.5 L202.0,298.7 L201.0,298.9 L200.0,299.1 L199.0,299.4 L198.0,299.6 L197.0,299.8 L196.0,300.0 L195.0,300.2 L194.0,300.4 L193.0,300.7 L192.0,300.9 L191.0,301.1 L190.0,301.3 L189.0,301.5 L188.0,301.8 L187.0,302.0 L186.0,302.2 L185.0,302.4 L184.0,302.6 L183.0,302.8 L182.0,303.0 L181.0,303.2 L180.0,303.4 L179.0,303.5 L178.0,303.6 L177.0,303.8 L176.0,303.9 L175.0,304.0 L174.0,304.1 L173.0,304.2 L172.0,304.3 L171.0,304.3 L170.0,304.4 L169.0,304.5 L168.0,304.6 L167.0,304.7 L166.0,304.8 L165.0,304.9 L164.0,305.0 L163.0,305.1 L162.0,305.2 L161.0,305.3 L160.0,305.4 L159.0,305.5 L158.0,305.6 L157.0,305.7 L156.0,305.8 L155.0,305.9 L154.0,306.0 L153.0,306.0 L152.0,306.1 L151.0,306.2 L150.0,306.3 L149.0,306.4 L148.0,306.5 L147.0,306.6 L146.0,306.6 L145.0,306.7 L144.0,306.7 L143.0,306.8 L142.0,306.8 L141.0,306.8 L140.0,306.8 L139.0,306.8 L138.0,306.8 L137.0,306.8 L136.0,306.8Z" fill="rgb(138,138,138)"/>
<path d="M136.0,293.1 L137.0,293.1 L138.0,293.1 L139.0,293.1 L140.0,293.1 L141.0,293.1 L142.0,293.1 L143.0,293.0 L144.0,293.0 L145.0,292.9 L146.0,292.7 L147.0,292.6 L148.0,292.4 L149.0,292.2 L150.0,292.0 L151.0,291.8 L152.0,291.6 L153.0,291.4 L154.0,291.2 L155.0,291.0 L156.0,290.7 L157.0,290.5 L158.0,290.3 L159.0,290.1 L160.0,289.9 L161.0,289.7 L162.0,289.5 L163.0,289.2 L164.0,289.0 L165.0,288.8 L166.0,288.6 L167.0,288.4 L168.0,288.2 L169.0,288.0 L170.0,287.7 L171.0,287.5 L172.0,287.3 L173.0,287.1 L174.0,286.9 L175.0,286.7 L176.0,286.5 L177.0,286.2 L178.0,286.0 L179.0,285.8 L180.0,285.6 L181.0,285.3 L182.0,285.1 L183.0,284.8 L184.0,284.6 L185.0,284.3 L186.0,284.1 L187.0,283.8 L188.0,283.5 L189.0,283.3 L190.0,283.0 L191.0,282.8 L192.0,282.5 L193.0,282.2 L194.0,282.0 L195.0,281.7 L196.0,281.5 L197.0,281.2 L198.0,281.0 L199.0,280.7 L200.0,280.4 L201.0,280.2 L202.0,279.9 L203.0,279.7 L204.0,279.4 L205.0,279.1 L206.0,278.9 L207.0,278.6 L208.0,278.4 L209.0,278.1 L210.0,277.9 L211.0,277.6 L212.0,277.3 L213.0,277.1 L214.0,276.8 L215.0,276.6 L216.0,276.3 L217.0,276.1 L218.0,275.8 L219.0,275.5 L220.0,275.3 L221.0,275.0 L222.0,274.8 L223.0,274.5 L224.0,274.2 L225.0,274.0 L226.0,273.7 L227.0,273.5 L228.0,273.2 L229.0,273.0 L230.0,272.7 L231.0,272.5 L232.0,272.3 L233.0,272.0 L234.0,271.8 L235.0,271.6 L236.0,271.3 L237.0,271.1 L238.0,270.9 L239.0,270.7 L240.0,270.4 L241.0,270.2 L242.0,270.0 L243.0,269.8 L244.0,269.6 L245.0,269.3 L246.0,269.1 L247.0,268.9 L248.0,268.6 L249.0,268.4 L250.0,268.2 L251.0,268.0 L252.0,267.7 L253.0,267.5 L254.0,267.3 L255.0,267.1 L256.0,266.8 L257.0,266.6 L258.0,266.4 L259.0,266.2 L260.0,265.9 L261.0,265.7 L262.0,265.5 L263.0,265.3 L264.0,265.1 L265.0,264.8 L266.0,264.6 L267.0,264.4 L268.0,264.1 L269.0,263.8 L270.0,263.5 L271.0,263.2 L272.0,262.9 L273.0,262.6 L274.0,262.2 L275.0,261.9 L276.0,261.5 L277.0,261.1 L278.0,260.8 L279.0,260.4 L280.0,260.0 L281.0,259.7 L282.0,259.3 L283.0,258.9 L284.0,258.6 L285.0,258.2 L286.0,257.8 L287.0,257.5 L288.0,257.1 L289.0,256.7 L290.0,256.4 L291.0,256.0 L292.0,255.6 L293.0,255.3 L294.0,254.9 L295.0,254.5 L296.0,254.2 L297.0,253.8 L298.0,253.4 L299.0,253.0 L300.0,252.6 L301.0,252.1 L302.0,251.7 L303.0,251.2 L304.0,250.7 L305.0,250.2 L306.0,249.7 L307.0,249.2 L308.0,248.8 L309.0,248.3 L310.0,247.8 L311.0,247.3 L312.0,246.8 L313.0,246.3 L314.0,245.9 L315.0,245.6 L316.0,245.3 L317.0,245.0 L318.0,244.7 L319.0,244.5 L320.0,244.4 L321.0,244.3 L322.0,244.2 L323.0,244.0 L324.0,243.9 L325.0,243.9 L326.0,243.9 L327.0,244.0 L328.0,244.2 L329.0,244.4 L330.0,244.7 L331.0,245.1 L332.0,245.6 L333.0,246.1 L334.0,246.6 L335.0,247.2 L336.0,247.9 L337.0,248.7 L338.0,249.5 L339.0,250.4 L340.0,251.4 L341.0,252.4 L342.0,253.5 L343.0,254.8 L344.0,256.0 L345.0,257.4 L346.0,258.7 L347.0,260.2 L348.0,261.7 L349.0,263.2 L350.0,264.8 L351.0,266.5 L352.0,268.1 L353.0,269.8 L354.0,271.4 L355.0,272.9 L356.0,274.3 L357.0,275.5 L358.0,276.6 L359.0,277.6 L360.0,278.5 L361.0,279.2 L362.0,279.9 L363.0,280.5 L364.0,281.1 L365.0,281.6 L366.0,282.2 L367.0,282.8 L368.0,283.3 L369.0,283.8 L370.0,284.3 L371.0,284.8 L372.0,285.3 L373.0,285.7 L374.0,286.1 L375.0,286.4 L376.0,286.6 L377.0,286.8 L378.0,287.0 L379.0,287.1 L380.0,287.2 L381.0,287.3 L382.0,287.3 L383.0,287.4 L384.0,287.4 L385.0,287.4 L386.0,287.5 L387.0,287.5 L388.0,287.6 L389.0,287.6 L390.0,287.6 L391.0,287.7 L392.0,287.7 L393.0,287.8 L394.0,287.8 L395.0,287.9 L396.0,287.9 L397.0,288.0 L398.0,288.0 L399.0,288.1 L400.0,288.1 L401.0,288.2 L402.0,288.2 L403.0,288.3 L404.0,288.3 L405.0,288.4 L406.0,288.5 L407.0,288.5 L408.0,288.6 L409.0,288.6 L410.0,288.6 L410.0,318.8 L409.0,318.8 L408.0,318.8 L407.0,318.8 L406.0,318.8 L405.0,318.8 L404.0,318.8 L403.0,318.8 L402.0,318.8 L401.0,318.8 L400.0,318.8 L399.0,318.8 L398.0,318.8 L397.0,318.7 L396.0,318.7 L395.0,318.7 L394.0,318.6 L393.0,318.5 L392.0,318.5 L391.0,318.4 L390.0,318.4 L389.0,318.3 L388.0,318.3 L387.0,318.2 L386.0,318.1 L385.0,318.1 L384.0,318.0 L383.0,318.0 L382.0,317.9 L381.0,317.9 L380.0,317.8 L379.0,317.7 L378.0,317.6 L377.0,317.4 L376.0,317.3 L375.0,317.0 L374.0,316.8 L373.0,316.5 L372.0,316.2 L371.0,315.9 L370.0,315.6 L369.0,315.3 L368.0,315.1 L367.0,314.8 L366.0,314.6 L365.0,314.4 L364.0,314.3 L363.0,314.2 L362.0,314.0 L361.0,313.9 L360.0,313.8 L359.0,313.6 L358.0,313.5 L357.0,313.3 L356.0,313.1 L355.0,312.9 L354.0,312.7 L353.0,312.5 L352.0,312.3 L351.0,312.1 L350.0,311.8 L349.0,311.5 L348.0,311.0 L347.0,310.4 L346.0,309.8 L345.0,309.1 L344.0,308.2 L343.0,307.3 L342.0,306.3 L341.0,305.1 L340.0,303.9 L339.0,302.6 L338.0,301.2 L337.0,299.7 L336.0,298.2 L335.0,296.6 L334.0,294.9 L333.0,293.1 L332.0,291.3 L331.0,289.6 L330.0,288.1 L329.0,286.7 L328.0,285.5 L327.0,284.4 L326.0,283.5 L325.0,282.6 L324.0,282.0 L323.0,281.5 L322.0,281.0 L321.0,280.4 L320.0,279.9 L319.0,279.5 L318.0,279.1 L317.0,278.7 L316.0,278.5 L315.0,278.3 L314.0,278.1 L313.0,278.0 L312.0,278.0 L311.0,278.0 L310.0,278.1 L309.0,278.1 L308.0,278.2 L307.0,278.2 L306.0,278.3 L305.0,278.3 L304.0,278.4 L303.0,278.5 L302.0,278.6 L301.0,278.7 L300.0,278.8 L299.0,278.9 L298.0,279.1 L297.0,279.3 L296.0,279.5 L295.0,279.7 L294.0,280.0 L293.0,280.2 L292.0,280.4 L291.0,280.6 L290.0,280.9 L289.0,281.1 L288.0,281.3 L287.0,281.5 L286.0,281.8 L285.0,282.0 L284.0,282.2 L283.0,282.5 L282.0,282.7 L281.0,282.9 L280.0,283.1 L279.0,283.4 L278.0,283.6 L277.0,283.8 L276.0,284.0 L275.0,284.3 L274.0,284.5 L273.0,284.7 L272.0,284.9 L271.0,285.1 L270.0,285.3 L269.0,285.5 L268.0,285.6 L267.0,285.8 L266.0,286.0 L265.0,286.1 L264.0,286.2 L263.0,286.4 L262.0,286.5 L261.0,286.6 L260.0,286.8 L259.0,286.9 L258.0,287.0 L257.0,287.2 L256.0,287.3 L255.0,287.5 L254.0,287.6 L253.0,287.7 L252.0,287.9 L251.0,288.0 L250.0,288.1 L249.0,288.3 L248.0,288.4 L247.0,288.6 L246.0,288.7 L245.0,288.8 L244.0,289.0 L243.0,289.1 L242.0,289.2 L241.0,289.4 L240.0,289.5 L239.0,289.7 L238.0,289.8 L237.0,289.9 L236.0,290.1 L235.0,290.2 L234.0,290.4 L233.0,290.5 L232.0,290.7 L231.0,290.8 L230.0,291.0 L229.0,291.2 L228.0,291.4 L227.0,291.6 L226.0,291.8 L225.0,292.0 L224.0,292.3 L223.0,292.5 L222.0,292.7 L221.0,292.9 L220.0,293.2 L219.0,293.4 L218.0,293.6 L217.0,293.8 L216.0,294.1 L215.0,294.3 L214.0,294.5 L213.0,294.7 L212.0,295.0 L211.0,295.2 L210.0,295.4 L209.0,295.6 L208.0,295.9 L207.0,296.1 L206.0,296.3 L205.0,296.5 L204.0,296.8 L203.0,297.0 L202.0,297.2 L201.0,297.5 L200.0,297.7 L199.0,297.9 L198.0,298.1 L197.0,298.4 L196.0,298.6 L195.0,298.8 L194.0,299.0 L193.0,299.3 L192.0,299.5 L191.0,299.7 L190.0,299.9 L189.0,300.2 L188.0,300.4 L187.0,300.6 L186.0,300.8 L185.0,301.1 L184.0,301.3 L183.0,301.5 L182.0,301.7 L181.0,301.9 L180.0,302.1 L179.0,302.2 L178.0,302.3 L177.0,302.5 L176.0,302.6 L175.0,302.7 L174.0,302.8 L173.0,302.9 L172.0,303.0 L171.0,303.0 L170.0,303.1 L169.0,303.2 L168.0,303.3 L167.0,303.4 L166.0,303.5 L165.0,303.6 L164.0,303.7 L163.0,303.8 L162.0,303.9 L161.0,304.0 L160.0,304.1 L159.0,304.2 L158.0,304.3 L157.0,304.4 L156.0,304.5 L155.0,304.6 L154.0,304.7 L153.0,304.7 L152.0,304.8 L151.0,304.9 L150.0,305.0 L149.0,305.1 L148.0,305.2 L147.0,305.3 L146.0,305.3 L145.0,305.4 L144.0,305.4 L143.0,305.5 L142.0,305.5 L141.0,305.5 L140.0,305.5 L139.0,305.5 L138.0,305.5 L137.0,305.5 L136.0,305.5Z" fill="rgb(158,158,158)"/>
<path d="M136.0,294.1 L137.0,294.1 L138.0,294.1 L139.0,294.1 L140.0,294.1 L141.0,294.1 L142.0,294.1 L143.0,294.0 L144.0,294.0 L145.0,293.9 L146.0,293.7 L147.0,293.6 L148.0,293.4 L149.0,293.2 L150.0,293.0 L151.0,292.8 L152.0,292.6 L153.0,292.4 L154.0,292.1 L155.0,291.9 L156.0,291.7 L157.0,291.5 L158.0,291.3 L159.0,291.1 L160.0,290.8 L161.0,290.6 L162.0,290.4 L163.0,290.2 L164.0,290.0 L165.0,289.8 L166.0,289.5 L167.0,289.3 L168.0,289.1 L169.0,288.9 L170.0,288.7 L171.0,288.5 L172.0,288.2 L173.0,288.0 L174.0,287.8 L175.0,287.6 L176.0,287.4 L177.0,287.1 L178.0,286.9 L179.0,286.7 L180.0,286.5 L181.0,286.2 L182.0,286.0 L183.0,285.7 L184.0,285.5 L185.0,285.2 L186.0,285.0 L187.0,284.8 L188.0,284.5 L189.0,284.2 L190.0,284.0 L191.0,283.8 L192.0,283.5 L193.0,283.2 L194.0,283.0 L195.0,282.8 L196.0,282.5 L197.0,282.2 L198.0,282.0 L199.0,281.8 L200.0,281.5 L201.0,281.2 L202.0,281.0 L203.0,280.8 L204.0,280.5 L205.0,280.2 L206.0,280.0 L207.0,279.7 L208.0,279.5 L209.0,279.2 L210.0,279.0 L211.0,278.7 L212.0,278.5 L213.0,278.2 L214.0,278.0 L215.0,277.8 L216.0,277.5 L217.0,277.2 L218.0,277.0 L219.0,276.8 L220.0,276.5 L221.0,276.2 L222.0,276.0 L223.0,275.8 L224.0,275.5 L225.0,275.2 L226.0,275.0 L227.0,274.8 L228.0,274.5 L229.0,274.3 L230.0,274.0 L231.0,273.8 L232.0,273.6 L233.0,273.3 L234.0,273.1 L235.0,272.9 L236.0,272.6 L237.0,272.4 L238.0,272.2 L239.0,272.0 L240.0,271.8 L241.0,271.5 L242.0,271.3 L243.0,271.1 L244.0,270.9 L245.0,270.6 L246.0,270.4 L247.0,270.2 L248.0,269.9 L249.0,269.7 L250.0,269.5 L251.0,269.3 L252.0,269.0 L253.0,268.8 L254.0,268.6 L255.0,268.4 L256.0,268.1 L257.0,267.9 L258.0,267.7 L259.0,267.5 L260.0,267.2 L261.0,267.0 L262.0,266.8 L263.0,266.6 L264.0,266.4 L265.0,266.1 L266.0,265.9 L267.0,265.7 L268.0,265.4 L269.0,265.1 L270.0,264.8 L271.0,264.5 L272.0,264.2 L273.0,263.9 L274.0,263.5 L275.0,263.2 L276.0,262.8 L277.0,262.4 L278.0,262.1 L279.0,261.7 L280.0,261.3 L281.0,261.0 L282.0,260.6 L283.0,260.2 L284.0,259.9 L285.0,259.5 L286.0,259.1 L287.0,258.8 L288.0,258.4 L289.0,258.0 L290.0,257.7 L291.0,257.3 L292.0,256.9 L293.0,256.6 L294.0,256.2 L295.0,255.8 L296.0,255.5 L297.0,255.1 L298.0,254.7 L299.0,254.3 L300.0,253.9 L301.0,253.4 L302.0,253.0 L303.0,252.5 L304.0,252.0 L305.0,251.5 L306.0,251.0 L307.0,250.5 L308.0,250.1 L309.0,249.6 L310.0,249.1 L311.0,248.6 L312.0,248.1 L313.0,247.6 L314.0,247.3 L315.0,246.9 L316.0,246.6 L317.0,246.3 L318.0,246.1 L319.0,246.0 L320.0,245.9 L321.0,245.8 L322.0,245.7 L323.0,245.6 L324.0,245.5 L325.0,245.5 L326.0,245.6 L327.0,245.7 L328.0,245.9 L329.0,246.2 L330.0,246.6 L331.0,247.0 L332.0,247.5 L333.0,248.1 L334.0,248.6 L335.0,249.3 L336.0,250.0 L337.0,250.8 L338.0,251.7 L339.0,252.6 L340.0,253.7 L341.0,254.8 L342.0,255.9 L343.0,257.2 L344.0,258.6 L345.0,260.0 L346.0,261.4 L347.0,262.9 L348.0,264.4 L349.0,266.0 L350.0,267.7 L351.0,269.4 L352.0,271.1 L353.0,272.9 L354.0,274.5 L355.0,276.0 L356.0,277.3 L357.0,278.6 L358.0,279.7 L359.0,280.6 L360.0,281.4 L361.0,282.1 L362.0,282.6 L363.0,283.1 L364.0,283.6 L365.0,284.1 L366.0,284.6 L367.0,285.1 L368.0,285.6 L369.0,286.0 L370.0,286.5 L371.0,287.0 L372.0,287.4 L373.0,287.8 L374.0,288.2 L375.0,288.5 L376.0,288.8 L377.0,289.0 L378.0,289.2 L379.0,289.3 L380.0,289.4 L381.0,289.4 L382.0,289.5 L383.0,289.5 L384.0,289.5 L385.0,289.6 L386.0,289.6 L387.0,289.7 L388.0,289.7 L389.0,289.8 L390.0,289.8 L391.0,289.8 L392.0,289.9 L393.0,289.9 L394.0,290.0 L395.0,290.0 L396.0,290.0 L397.0,290.1 L398.0,290.1 L399.0,290.2 L400.0,290.2 L401.0,290.3 L402.0,290.3 L403.0,290.4 L404.0,290.4 L405.0,290.5 L406.0,290.5 L407.0,290.6 L408.0,290.6 L409.0,290.6 L410.0,290.6 L410.0,317.2 L409.0,317.2 L408.0,317.2 L407.0,317.2 L406.0,317.2 L405.0,317.2 L404.0,317.2 L403.0,317.2 L402.0,317.2 L401.0,317.2 L400.0,317.2 L399.0,317.2 L398.0,317.1 L397.0,317.1 L396.0,317.1 L395.0,317.0 L394.0,316.9 L393.0,316.9 L392.0,316.8 L391.0,316.7 L390.0,316.6 L389.0,316.5 L388.0,316.5 L387.0,316.4 L386.0,316.3 L385.0,316.2 L384.0,316.1 L383.0,316.1 L382.0,316.0 L381.0,315.9 L380.0,315.8 L379.0,315.7 L378.0,315.6 L377.0,315.5 L376.0,315.3 L375.0,315.1 L374.0,314.9 L373.0,314.7 L372.0,314.4 L371.0,314.2 L370.0,313.9 L369.0,313.7 L368.0,313.5 L367.0,313.3 L366.0,313.1 L365.0,312.9 L364.0,312.7 L363.0,312.6 L362.0,312.5 L361.0,312.3 L360.0,312.2 L359.0,312.0 L358.0,311.8 L357.0,311.6 L356.0,311.4 L355.0,311.2 L354.0,311.0 L353.0,310.8 L352.0,310.5 L351.0,310.3 L350.0,310.0 L349.0,309.6 L348.0,309.1 L347.0,308.6 L346.0,307.9 L345.0,307.1 L344.0,306.2 L343.0,305.3 L342.0,304.2 L341.0,303.1 L340.0,301.8 L339.0,300.5 L338.0,299.1 L337.0,297.6 L336.0,296.0 L335.0,294.4 L334.0,292.7 L333.0,290.9 L332.0,289.1 L331.0,287.5 L330.0,285.9 L329.0,284.6 L328.0,283.3 L327.0,282.2 L326.0,281.2 L325.0,280.4 L324.0,279.7 L323.0,279.1 L322.0,278.6 L321.0,278.0 L320.0,277.5 L319.0,277.0 L318.0,276.6 L317.0,276.2 L316.0,276.0 L315.0,275.8 L314.0,275.7 L313.0,275.6 L312.0,275.6 L311.0,275.7 L310.0,275.8 L309.0,275.9 L308.0,276.0 L307.0,276.1 L306.0,276.3 L305.0,276.4 L304.0,276.5 L303.0,276.6 L302.0,276.7 L301.0,276.9 L300.0,277.0 L299.0,277.2 L298.0,277.4 L297.0,277.6 L296.0,277.8 L295.0,278.0 L294.0,278.3 L293.0,278.5 L292.0,278.7 L291.0,278.9 L290.0,279.2 L289.0,279.4 L288.0,279.6 L287.0,279.8 L286.0,280.1 L285.0,280.3 L284.0,280.5 L283.0,280.8 L282.0,281.0 L281.0,281.2 L280.0,281.4 L279.0,281.7 L278.0,281.9 L277.0,282.1 L276.0,282.3 L275.0,282.6 L274.0,282.8 L273.0,283.0 L272.0,283.2 L271.0,283.4 L270.0,283.6 L269.0,283.8 L268.0,283.9 L267.0,284.1 L266.0,284.2 L265.0,284.4 L264.0,284.5 L263.0,284.7 L262.0,284.8 L261.0,284.9 L260.0,285.1 L259.0,285.2 L258.0,285.3 L257.0,285.5 L256.0,285.6 L255.0,285.8 L254.0,285.9 L253.0,286.0 L252.0,286.2 L251.0,286.3 L250.0,286.4 L249.0,286.6 L248.0,286.7 L247.0,286.9 L246.0,287.0 L245.0,287.1 L244.0,287.3 L243.0,287.4 L242.0,287.5 L241.0,287.7 L240.0,287.8 L239.0,288.0 L238.0,288.1 L237.0,288.2 L236.0,288.4 L235.0,288.5 L234.0,288.6 L233.0,288.8 L232.0,289.0 L231.0,289.1 L230.0,289.3 L229.0,289.5 L228.0,289.7 L227.0,289.9 L226.0,290.1 L225.0,290.4 L224.0,290.6 L223.0,290.8 L222.0,291.1 L221.0,291.3 L220.0,291.5 L219.0,291.8 L218.0,292.0 L217.0,292.2 L216.0,292.5 L215.0,292.7 L214.0,292.9 L213.0,293.2 L212.0,293.4 L211.0,293.6 L210.0,293.9 L209.0,294.1 L208.0,294.3 L207.0,294.6 L206.0,294.8 L205.0,295.0 L204.0,295.3 L203.0,295.5 L202.0,295.8 L201.0,296.0 L200.0,296.2 L199.0,296.5 L198.0,296.7 L197.0,296.9 L196.0,297.2 L195.0,297.4 L194.0,297.6 L193.0,297.9 L192.0,298.1 L191.0,298.3 L190.0,298.6 L189.0,298.8 L188.0,299.0 L187.0,299.3 L186.0,299.5 L185.0,299.7 L184.0,300.0 L183.0,300.2 L182.0,300.4 L181.0,300.6 L180.0,300.7 L179.0,300.9 L178.0,301.0 L177.0,301.2 L176.0,301.3 L175.0,301.4 L174.0,301.5 L173.0,301.6 L172.0,301.7 L171.0,301.7 L170.0,301.8 L169.0,301.9 L168.0,302.0 L167.0,302.1 L166.0,302.2 L165.0,302.3 L164.0,302.4 L163.0,302.5 L162.0,302.6 L161.0,302.7 L160.0,302.8 L159.0,302.9 L158.0,303.0 L157.0,303.1 L156.0,303.2 L155.0,303.3 L154.0,303.4 L153.0,303.4 L152.0,303.5 L151.0,303.6 L150.0,303.7 L149.0,303.8 L148.0,303.9 L147.0,304.0 L146.0,304.0 L145.0,304.1 L144.0,304.1 L143.0,304.2 L142.0,304.2 L141.0,304.2 L140.0,304.2 L139.0,304.2 L138.0,304.2 L137.0,304.2 L136.0,304.2Z" fill="rgb(178,178,178)"/>
<path d="M136.0,297.2 L137.0,297.2 L138.0,297.2 L139.0,297.2 L140.0,297.2 L141.0,297.2 L142.0,297.2 L143.0,297.2 L144.0,297.1 L145.0,297.0 L146.0,296.9 L147.0,296.7 L148.0,296.5 L149.0,296.3 L150.0,296.0 L151.0,295.8 L152.0,295.5 L153.0,295.3 L154.0,295.1 L155.0,294.8 L156.0,294.6 L157.0,294.3 L158.0,294.1 L159.0,293.9 L160.0,293.6 L161.0,293.4 L162.0,293.1 L163.0,292.9 L164.0,292.7 L165.0,292.4 L166.0,292.2 L167.0,291.9 L168.0,291.7 L169.0,291.5 L170.0,291.2 L171.0,291.0 L172.0,290.7 L173.0,290.5 L174.0,290.3 L175.0,290.0 L176.0,289.8 L177.0,289.5 L178.0,289.3 L179.0,289.1 L180.0,288.8 L181.0,288.6 L182.0,288.3 L183.0,288.1 L184.0,287.8 L185.0,287.6 L186.0,287.3 L187.0,287.1 L188.0,286.8 L189.0,286.6 L190.0,286.3 L191.0,286.1 L192.0,285.8 L193.0,285.6 L194.0,285.3 L195.0,285.1 L196.0,284.8 L197.0,284.6 L198.0,284.3 L199.0,284.1 L200.0,283.9 L201.0,283.6 L202.0,283.4 L203.0,283.1 L204.0,282.9 L205.0,282.6 L206.0,282.4 L207.0,282.1 L208.0,281.9 L209.0,281.6 L210.0,281.4 L211.0,281.1 L212.0,280.9 L213.0,280.6 L214.0,280.4 L215.0,280.1 L216.0,279.9 L217.0,279.6 L218.0,279.4 L219.0,279.1 L220.0,278.9 L221.0,278.6 L222.0,278.4 L223.0,278.1 L224.0,277.9 L225.0,277.6 L226.0,277.4 L227.0,277.1 L228.0,276.9 L229.0,276.7 L230.0,276.4 L231.0,276.2 L232.0,276.0 L233.0,275.8 L234.0,275.6 L235.0,275.3 L236.0,275.1 L237.0,274.9 L238.0,274.7 L239.0,274.5 L240.0,274.3 L241.0,274.1 L242.0,273.9 L243.0,273.7 L244.0,273.4 L245.0,273.2 L246.0,273.0 L247.0,272.8 L248.0,272.6 L249.0,272.4 L250.0,272.2 L251.0,272.0 L252.0,271.8 L253.0,271.5 L254.0,271.3 L255.0,271.1 L256.0,270.9 L257.0,270.7 L258.0,270.5 L259.0,270.3 L260.0,270.1 L261.0,269.9 L262.0,269.6 L263.0,269.4 L264.0,269.2 L265.0,269.0 L266.0,268.8 L267.0,268.6 L268.0,268.4 L269.0,268.1 L270.0,267.8 L271.0,267.5 L272.0,267.2 L273.0,266.9 L274.0,266.5 L275.0,266.1 L276.0,265.8 L277.0,265.4 L278.0,265.0 L279.0,264.7 L280.0,264.3 L281.0,263.9 L282.0,263.6 L283.0,263.2 L284.0,262.8 L285.0,262.5 L286.0,262.1 L287.0,261.7 L288.0,261.4 L289.0,261.0 L290.0,260.6 L291.0,260.3 L292.0,259.9 L293.0,259.5 L294.0,259.2 L295.0,258.8 L296.0,258.4 L297.0,258.1 L298.0,257.7 L299.0,257.3 L300.0,256.9 L301.0,256.5 L302.0,256.0 L303.0,255.6 L304.0,255.2 L305.0,254.7 L306.0,254.3 L307.0,253.8 L308.0,253.4 L309.0,252.9 L310.0,252.5 L311.0,252.0 L312.0,251.6 L313.0,251.2 L314.0,250.9 L315.0,250.7 L316.0,250.6 L317.0,250.7 L318.0,250.8 L319.0,251.1 L320.0,251.5 L321.0,251.9 L322.0,252.2 L323.0,252.6 L324.0,253.0 L325.0,253.4 L326.0,253.9 L327.0,254.4 L328.0,254.9 L329.0,255.5 L330.0,256.2 L331.0,257.0 L332.0,257.8 L333.0,258.7 L334.0,259.6 L335.0,260.6 L336.0,261.5 L337.0,262.3 L338.0,263.1 L338.0,274.5 L337.0,274.2 L336.0,273.8 L335.0,273.4 L334.0,273.0 L333.0,272.6 L332.0,272.2 L331.0,271.9 L330.0,271.6 L329.0,271.4 L328.0,271.2 L327.0,271.1 L326.0,271.0 L325.0,271.0 L324.0,271.0 L323.0,271.1 L322.0,271.1 L321.0,271.2 L320.0,271.3 L319.0,271.3 L318.0,271.4 L317.0,271.5 L316.0,271.6 L315.0,271.7 L314.0,271.8 L313.0,272.0 L312.0,272.1 L311.0,272.3 L310.0,272.4 L309.0,272.6 L308.0,272.7 L307.0,272.9 L306.0,273.0 L305.0,273.2 L304.0,273.3 L303.0,273.5 L302.0,273.7 L301.0,273.8 L300.0,274.0 L299.0,274.2 L298.0,274.5 L297.0,274.7 L296.0,274.9 L295.0,275.2 L294.0,275.4 L293.0,275.7 L292.0,275.9 L291.0,276.2 L290.0,276.4 L289.0,276.7 L288.0,276.9 L287.0,277.2 L286.0,277.4 L285.0,277.7 L284.0,277.9 L283.0,278.2 L282.0,278.4 L281.0,278.7 L280.0,278.9 L279.0,279.1 L278.0,279.4 L277.0,279.6 L276.0,279.9 L275.0,280.1 L274.0,280.4 L273.0,280.6 L272.0,280.9 L271.0,281.1 L270.0,281.3 L269.0,281.5 L268.0,281.6 L267.0,281.8 L266.0,281.9 L265.0,282.1 L264.0,282.2 L263.0,282.4 L262.0,282.5 L261.0,282.7 L260.0,282.8 L259.0,282.9 L258.0,283.1 L257.0,283.2 L256.0,283.4 L255.0,283.5 L254.0,283.6 L253.0,283.8 L252.0,283.9 L251.0,284.1 L250.0,284.2 L249.0,284.4 L248.0,284.5 L247.0,284.6 L246.0,284.8 L245.0,284.9 L244.0,285.1 L243.0,285.2 L242.0,285.3 L241.0,285.5 L240.0,285.6 L239.0,285.8 L238.0,285.9 L237.0,286.0 L236.0,286.2 L235.0,286.3 L234.0,286.5 L233.0,286.6 L232.0,286.8 L231.0,286.9 L230.0,287.1 L229.0,287.3 L228.0,287.5 L227.0,287.7 L226.0,287.9 L225.0,288.1 L224.0,288.3 L223.0,288.5 L222.0,288.7 L221.0,288.9 L220.0,289.1 L219.0,289.3 L218.0,289.5 L217.0,289.7 L216.0,289.9 L215.0,290.1 L214.0,290.3 L213.0,290.6 L212.0,290.8 L211.0,291.0 L210.0,291.2 L209.0,291.4 L208.0,291.6 L207.0,291.8 L206.0,292.0 L205.0,292.2 L204.0,292.4 L203.0,292.6 L202.0,292.8 L201.0,293.0 L200.0,293.2 L199.0,293.5 L198.0,293.7 L197.0,293.9 L196.0,294.1 L195.0,294.3 L194.0,294.5 L193.0,294.7 L192.0,294.9 L191.0,295.1 L190.0,295.3 L189.0,295.5 L188.0,295.7 L187.0,295.9 L186.0,296.1 L185.0,296.3 L184.0,296.6 L183.0,296.8 L182.0,297.0 L181.0,297.1 L180.0,297.3 L179.0,297.5 L178.0,297.7 L177.0,297.8 L176.0,298.0 L175.0,298.2 L174.0,298.3 L173.0,298.5 L172.0,298.6 L171.0,298.8 L170.0,298.9 L169.0,299.1 L168.0,299.3 L167.0,299.4 L166.0,299.6 L165.0,299.7 L164.0,299.9 L163.0,300.0 L162.0,300.2 L161.0,300.3 L160.0,300.5 L159.0,300.7 L158.0,300.8 L157.0,301.0 L156.0,301.1 L155.0,301.3 L154.0,301.4 L153.0,301.6 L152.0,301.7 L151.0,301.9 L150.0,302.1 L149.0,302.2 L148.0,302.4 L147.0,302.5 L146.0,302.6 L145.0,302.7 L144.0,302.8 L143.0,302.8 L142.0,302.8 L141.0,302.8 L140.0,302.8 L139.0,302.8 L138.0,302.8 L137.0,302.8 L136.0,302.8Z" fill="rgb(198,198,198)"/>
<path d="M338.0,283.6 L339.0,283.6 L340.0,283.5 L341.0,283.4 L342.0,283.3 L343.0,283.2 L344.0,283.1 L345.0,283.1 L346.0,283.2 L347.0,283.3 L348.0,283.5 L349.0,283.8 L350.0,284.2 L351.0,284.6 L352.0,285.0 L353.0,285.5 L354.0,285.9 L355.0,286.2 L356.0,286.6 L357.0,286.9 L358.0,287.3 L359.0,287.6 L360.0,287.9 L361.0,288.2 L362.0,288.4 L363.0,288.7 L364.0,288.9 L365.0,289.2 L366.0,289.4 L367.0,289.7 L368.0,290.0 L369.0,290.3 L370.0,290.6 L371.0,291.0 L372.0,291.3 L373.0,291.6 L374.0,291.9 L375.0,292.2 L376.0,292.4 L377.0,292.6 L378.0,292.7 L379.0,292.8 L380.0,292.9 L381.0,293.0 L382.0,293.0 L383.0,293.1 L384.0,293.2 L385.0,293.2 L386.0,293.3 L387.0,293.4 L388.0,293.4 L389.0,293.5 L390.0,293.6 L391.0,293.6 L392.0,293.7 L393.0,293.7 L394.0,293.8 L395.0,293.9 L396.0,293.9 L397.0,294.0 L398.0,294.0 L399.0,294.1 L400.0,294.1 L401.0,294.2 L402.0,294.2 L403.0,294.3 L404.0,294.3 L405.0,294.3 L406.0,294.4 L407.0,294.4 L408.0,294.5 L409.0,294.5 L410.0,294.5 L410.0,313.4 L409.0,313.4 L408.0,313.4 L407.0,313.4 L406.0,313.4 L405.0,313.4 L404.0,313.4 L403.0,313.4 L402.0,313.4 L401.0,313.4 L400.0,313.4 L399.0,313.4 L398.0,313.4 L397.0,313.4 L396.0,313.3 L395.0,313.3 L394.0,313.3 L393.0,313.2 L392.0,313.2 L391.0,313.1 L390.0,313.1 L389.0,313.0 L388.0,312.9 L387.0,312.9 L386.0,312.8 L385.0,312.8 L384.0,312.7 L383.0,312.7 L382.0,312.6 L381.0,312.6 L380.0,312.5 L379.0,312.5 L378.0,312.4 L377.0,312.3 L376.0,312.1 L375.0,311.9 L374.0,311.7 L373.0,311.4 L372.0,311.1 L371.0,310.8 L370.0,310.5 L369.0,310.2 L368.0,309.9 L367.0,309.5 L366.0,309.2 L365.0,308.9 L364.0,308.6 L363.0,308.2 L362.0,307.9 L361.0,307.6 L360.0,307.2 L359.0,306.9 L358.0,306.6 L357.0,306.3 L356.0,306.0 L355.0,305.7 L354.0,305.3 L353.0,305.0 L352.0,304.7 L351.0,304.4 L350.0,304.1 L349.0,303.8 L348.0,303.3 L347.0,302.9 L346.0,302.4 L345.0,301.8 L344.0,301.1 L343.0,300.4 L342.0,299.7 L341.0,299.0 L340.0,298.3 L339.0,297.6 L338.0,297.1Z" fill="rgb(198,198,198)"/>
<path d="M136.0,298.0 L137.0,298.0 L138.0,298.0 L139.0,298.0 L140.0,298.0 L141.0,298.0 L142.0,298.0 L143.0,298.0 L144.0,297.9 L145.0,297.8 L146.0,297.6 L147.0,297.5 L148.0,297.3 L149.0,297.0 L150.0,296.8 L151.0,296.5 L152.0,296.3 L153.0,296.0 L154.0,295.8 L155.0,295.5 L156.0,295.3 L157.0,295.1 L158.0,294.8 L159.0,294.6 L160.0,294.3 L161.0,294.1 L162.0,293.8 L163.0,293.6 L164.0,293.3 L165.0,293.1 L166.0,292.8 L167.0,292.6 L168.0,292.3 L169.0,292.1 L170.0,291.9 L171.0,291.6 L172.0,291.4 L173.0,291.1 L174.0,290.9 L175.0,290.6 L176.0,290.4 L177.0,290.1 L178.0,289.9 L179.0,289.6 L180.0,289.4 L181.0,289.2 L182.0,288.9 L183.0,288.7 L184.0,288.4 L185.0,288.2 L186.0,287.9 L187.0,287.7 L188.0,287.4 L189.0,287.2 L190.0,286.9 L191.0,286.7 L192.0,286.4 L193.0,286.2 L194.0,285.9 L195.0,285.7 L196.0,285.4 L197.0,285.2 L198.0,284.9 L199.0,284.7 L200.0,284.4 L201.0,284.2 L202.0,283.9 L203.0,283.7 L204.0,283.4 L205.0,283.2 L206.0,283.0 L207.0,282.7 L208.0,282.5 L209.0,282.2 L210.0,282.0 L211.0,281.7 L212.0,281.5 L213.0,281.2 L214.0,281.0 L215.0,280.7 L216.0,280.5 L217.0,280.2 L218.0,280.0 L219.0,279.7 L220.0,279.5 L221.0,279.2 L222.0,279.0 L223.0,278.7 L224.0,278.5 L225.0,278.2 L226.0,278.0 L227.0,277.7 L228.0,277.5 L229.0,277.3 L230.0,277.0 L231.0,276.8 L232.0,276.6 L233.0,276.4 L234.0,276.2 L235.0,276.0 L236.0,275.8 L237.0,275.5 L238.0,275.3 L239.0,275.1 L240.0,274.9 L241.0,274.7 L242.0,274.5 L243.0,274.3 L244.0,274.1 L245.0,273.9 L246.0,273.7 L247.0,273.5 L248.0,273.3 L249.0,273.1 L250.0,272.8 L251.0,272.6 L252.0,272.4 L253.0,272.2 L254.0,272.0 L255.0,271.8 L256.0,271.6 L257.0,271.4 L258.0,271.2 L259.0,271.0 L260.0,270.8 L261.0,270.6 L262.0,270.4 L263.0,270.2 L264.0,269.9 L265.0,269.7 L266.0,269.5 L267.0,269.3 L268.0,269.1 L269.0,268.8 L270.0,268.6 L271.0,268.3 L272.0,267.9 L273.0,267.6 L274.0,267.2 L275.0,266.9 L276.0,266.5 L277.0,266.1 L278.0,265.8 L279.0,265.4 L280.0,265.0 L281.0,264.7 L282.0,264.3 L283.0,263.9 L284.0,263.6 L285.0,263.2 L286.0,262.8 L287.0,262.5 L288.0,262.1 L289.0,261.7 L290.0,261.4 L291.0,261.0 L292.0,260.6 L293.0,260.3 L294.0,259.9 L295.0,259.5 L296.0,259.2 L297.0,258.8 L298.0,258.4 L299.0,258.0 L300.0,257.6 L301.0,257.2 L302.0,256.8 L303.0,256.4 L304.0,256.0 L305.0,255.5 L306.0,255.1 L307.0,254.6 L308.0,254.2 L309.0,253.8 L310.0,253.3 L311.0,252.9 L312.0,252.5 L313.0,252.0 L314.0,251.8 L315.0,251.6 L316.0,251.6 L317.0,251.7 L318.0,252.0 L319.0,252.4 L320.0,252.9 L321.0,253.4 L322.0,253.9 L323.0,254.4 L324.0,254.9 L325.0,255.4 L326.0,255.9 L327.0,256.5 L328.0,257.2 L329.0,257.9 L330.0,258.6 L331.0,259.4 L332.0,260.4 L333.0,261.3 L334.0,262.3 L335.0,263.4 L336.0,264.4 L337.0,265.2 L338.0,265.9 L338.0,268.4 L337.0,268.3 L336.0,268.2 L335.0,268.2 L334.0,268.1 L333.0,268.1 L332.0,268.0 L331.0,268.0 L330.0,268.0 L329.0,268.1 L328.0,268.2 L327.0,268.3 L326.0,268.4 L325.0,268.6 L324.0,268.8 L323.0,269.1 L322.0,269.3 L321.0,269.5 L320.0,269.7 L319.0,269.9 L318.0,270.1 L317.0,270.3 L316.0,270.5 L315.0,270.7 L314.0,270.9 L313.0,271.1 L312.0,271.2 L311.0,271.4 L310.0,271.6 L309.0,271.7 L308.0,271.9 L307.0,272.0 L306.0,272.2 L305.0,272.4 L304.0,272.5 L303.0,272.7 L302.0,272.9 L301.0,273.1 L300.0,273.3 L299.0,273.5 L298.0,273.7 L297.0,274.0 L296.0,274.2 L295.0,274.5 L294.0,274.7 L293.0,275.0 L292.0,275.2 L291.0,275.5 L290.0,275.7 L289.0,276.0 L288.0,276.2 L287.0,276.5 L286.0,276.7 L285.0,277.0 L284.0,277.3 L283.0,277.5 L282.0,277.8 L281.0,278.0 L280.0,278.3 L279.0,278.5 L278.0,278.8 L277.0,279.0 L276.0,279.3 L275.0,279.5 L274.0,279.8 L273.0,280.0 L272.0,280.3 L271.0,280.5 L270.0,280.7 L269.0,280.9 L268.0,281.1 L267.0,281.2 L266.0,281.4 L265.0,281.5 L264.0,281.7 L263.0,281.8 L262.0,281.9 L261.0,282.1 L260.0,282.2 L259.0,282.4 L258.0,282.5 L257.0,282.7 L256.0,282.8 L255.0,282.9 L254.0,283.1 L253.0,283.2 L252.0,283.4 L251.0,283.5 L250.0,283.7 L249.0,283.8 L248.0,283.9 L247.0,284.1 L246.0,284.2 L245.0,284.4 L244.0,284.5 L243.0,284.6 L242.0,284.8 L241.0,284.9 L240.0,285.1 L239.0,285.2 L238.0,285.4 L237.0,285.5 L236.0,285.6 L235.0,285.8 L234.0,285.9 L233.0,286.1 L232.0,286.2 L231.0,286.4 L230.0,286.5 L229.0,286.7 L228.0,286.9 L227.0,287.1 L226.0,287.3 L225.0,287.5 L224.0,287.7 L223.0,287.9 L222.0,288.1 L221.0,288.3 L220.0,288.5 L219.0,288.7 L218.0,288.9 L217.0,289.1 L216.0,289.3 L215.0,289.5 L214.0,289.7 L213.0,289.9 L212.0,290.1 L211.0,290.3 L210.0,290.5 L209.0,290.7 L208.0,290.9 L207.0,291.1 L206.0,291.3 L205.0,291.5 L204.0,291.7 L203.0,291.9 L202.0,292.1 L201.0,292.3 L200.0,292.5 L199.0,292.7 L198.0,292.9 L197.0,293.1 L196.0,293.3 L195.0,293.5 L194.0,293.7 L193.0,293.9 L192.0,294.1 L191.0,294.3 L190.0,294.5 L189.0,294.7 L188.0,294.9 L187.0,295.1 L186.0,295.3 L185.0,295.5 L184.0,295.7 L183.0,295.9 L182.0,296.1 L181.0,296.3 L180.0,296.5 L179.0,296.7 L178.0,296.8 L177.0,297.0 L176.0,297.2 L175.0,297.4 L174.0,297.5 L173.0,297.7 L172.0,297.9 L171.0,298.0 L170.0,298.2 L169.0,298.4 L168.0,298.6 L167.0,298.7 L166.0,298.9 L165.0,299.1 L164.0,299.2 L163.0,299.4 L162.0,299.6 L161.0,299.8 L160.0,299.9 L159.0,300.1 L158.0,300.3 L157.0,300.4 L156.0,300.6 L155.0,300.8 L154.0,301.0 L153.0,301.1 L152.0,301.3 L151.0,301.5 L150.0,301.6 L149.0,301.8 L148.0,302.0 L147.0,302.1 L146.0,302.3 L145.0,302.4 L144.0,302.4 L143.0,302.5 L142.0,302.5 L141.0,302.5 L140.0,302.5 L139.0,302.5 L138.0,302.5 L137.0,302.5 L136.0,302.5Z" fill="rgb(217,217,217)"/>
<path d="M338.0,291.6 L339.0,291.3 L340.0,291.0 L341.0,290.6 L342.0,290.1 L343.0,289.6 L344.0,289.2 L345.0,288.9 L346.0,288.6 L347.0,288.4 L348.0,288.3 L349.0,288.3 L350.0,288.3 L351.0,288.4 L352.0,288.5 L353.0,288.6 L354.0,288.7 L355.0,288.8 L356.0,288.9 L357.0,289.0 L358.0,289.2 L359.0,289.3 L360.0,289.5 L361.0,289.7 L362.0,289.9 L363.0,290.1 L364.0,290.3 L365.0,290.4 L366.0,290.6 L367.0,290.9 L368.0,291.1 L369.0,291.4 L370.0,291.7 L371.0,292.0 L372.0,292.3 L373.0,292.6 L374.0,292.9 L375.0,293.1 L376.0,293.3 L377.0,293.5 L378.0,293.6 L379.0,293.7 L380.0,293.8 L381.0,293.9 L382.0,293.9 L383.0,294.0 L384.0,294.1 L385.0,294.1 L386.0,294.2 L387.0,294.3 L388.0,294.4 L389.0,294.4 L390.0,294.5 L391.0,294.6 L392.0,294.6 L393.0,294.7 L394.0,294.8 L395.0,294.8 L396.0,294.9 L397.0,295.0 L398.0,295.0 L399.0,295.1 L400.0,295.1 L401.0,295.1 L402.0,295.2 L403.0,295.2 L404.0,295.3 L405.0,295.3 L406.0,295.3 L407.0,295.4 L408.0,295.4 L409.0,295.4 L410.0,295.5 L410.0,312.5 L409.0,312.5 L408.0,312.5 L407.0,312.5 L406.0,312.5 L405.0,312.5 L404.0,312.5 L403.0,312.5 L402.0,312.5 L401.0,312.5 L400.0,312.5 L399.0,312.5 L398.0,312.5 L397.0,312.5 L396.0,312.4 L395.0,312.4 L394.0,312.3 L393.0,312.3 L392.0,312.3 L391.0,312.2 L390.0,312.2 L389.0,312.1 L388.0,312.1 L387.0,312.0 L386.0,312.0 L385.0,311.9 L384.0,311.9 L383.0,311.8 L382.0,311.8 L381.0,311.7 L380.0,311.7 L379.0,311.6 L378.0,311.6 L377.0,311.5 L376.0,311.3 L375.0,311.1 L374.0,310.9 L373.0,310.6 L372.0,310.3 L371.0,310.0 L370.0,309.6 L369.0,309.3 L368.0,309.0 L367.0,308.6 L366.0,308.2 L365.0,307.9 L364.0,307.5 L363.0,307.1 L362.0,306.8 L361.0,306.4 L360.0,306.0 L359.0,305.6 L358.0,305.3 L357.0,304.9 L356.0,304.6 L355.0,304.3 L354.0,303.9 L353.0,303.6 L352.0,303.3 L351.0,303.0 L350.0,302.6 L349.0,302.3 L348.0,301.9 L347.0,301.5 L346.0,301.0 L345.0,300.4 L344.0,299.9 L343.0,299.2 L342.0,298.6 L341.0,297.9 L340.0,297.4 L339.0,296.9 L338.0,296.6Z" fill="rgb(217,217,217)"/>
<path d="M160.0,295.1 L161.0,294.9 L162.0,294.7 L163.0,294.5 L164.0,294.2 L165.0,294.0 L166.0,293.7 L167.0,293.5 L168.0,293.3 L169.0,293.0 L170.0,292.8 L171.0,292.6 L172.0,292.3 L173.0,292.1 L174.0,291.9 L175.0,291.6 L176.0,291.4 L177.0,291.2 L178.0,290.9 L179.0,290.7 L180.0,290.4 L181.0,290.2 L182.0,290.0 L183.0,289.7 L184.0,289.5 L185.0,289.2 L186.0,289.0 L187.0,288.7 L188.0,288.5 L189.0,288.2 L190.0,288.0 L191.0,287.8 L192.0,287.5 L193.0,287.3 L194.0,287.0 L195.0,286.8 L196.0,286.5 L197.0,286.3 L198.0,286.0 L199.0,285.8 L200.0,285.5 L201.0,285.3 L202.0,285.1 L203.0,284.8 L204.0,284.6 L205.0,284.3 L206.0,284.1 L207.0,283.8 L208.0,283.6 L209.0,283.3 L210.0,283.1 L211.0,282.9 L212.0,282.6 L213.0,282.4 L214.0,282.1 L215.0,281.9 L216.0,281.6 L217.0,281.4 L218.0,281.1 L219.0,280.9 L220.0,280.6 L221.0,280.4 L222.0,280.2 L223.0,279.9 L224.0,279.7 L225.0,279.4 L226.0,279.2 L227.0,278.9 L228.0,278.7 L229.0,278.5 L230.0,278.2 L231.0,278.0 L232.0,277.8 L233.0,277.6 L234.0,277.3 L235.0,277.1 L236.0,276.9 L237.0,276.7 L238.0,276.5 L239.0,276.3 L240.0,276.0 L241.0,275.8 L242.0,275.6 L243.0,275.4 L244.0,275.2 L245.0,275.0 L246.0,274.8 L247.0,274.5 L248.0,274.3 L249.0,274.1 L250.0,273.9 L251.0,273.7 L252.0,273.5 L253.0,273.3 L254.0,273.0 L255.0,272.8 L256.0,272.6 L257.0,272.4 L258.0,272.2 L259.0,272.0 L260.0,271.8 L261.0,271.5 L262.0,271.3 L263.0,271.1 L264.0,270.9 L265.0,270.7 L266.0,270.5 L267.0,270.2 L268.0,270.0 L269.0,269.8 L270.0,269.5 L271.0,269.2 L272.0,268.9 L273.0,268.5 L274.0,268.2 L275.0,267.8 L276.0,267.5 L277.0,267.1 L278.0,266.8 L279.0,266.4 L280.0,266.1 L281.0,265.7 L282.0,265.4 L283.0,265.0 L284.0,264.7 L285.0,264.3 L286.0,263.9 L287.0,263.6 L288.0,263.2 L289.0,262.9 L290.0,262.5 L291.0,262.2 L292.0,261.8 L293.0,261.5 L294.0,261.1 L295.0,260.8 L296.0,260.4 L297.0,260.1 L298.0,259.7 L299.0,259.3 L300.0,258.9 L301.0,258.5 L302.0,258.1 L303.0,257.7 L304.0,257.3 L305.0,256.8 L306.0,256.4 L307.0,255.9 L308.0,255.5 L309.0,255.1 L310.0,254.6 L311.0,254.2 L312.0,253.8 L313.0,253.3 L314.0,253.1 L315.0,252.9 L316.0,252.8 L317.0,252.9 L318.0,253.1 L319.0,253.4 L320.0,253.8 L321.0,254.2 L322.0,254.7 L323.0,255.2 L324.0,255.7 L325.0,256.3 L326.0,257.0 L327.0,257.7 L328.0,258.4 L329.0,259.0 L329.0,266.2 L328.0,266.4 L327.0,266.6 L326.0,266.8 L325.0,267.0 L324.0,267.3 L323.0,267.5 L322.0,267.6 L321.0,267.8 L320.0,267.9 L319.0,268.0 L318.0,268.2 L317.0,268.3 L316.0,268.5 L315.0,268.7 L314.0,268.9 L313.0,269.1 L312.0,269.3 L311.0,269.5 L310.0,269.7 L309.0,269.9 L308.0,270.2 L307.0,270.4 L306.0,270.6 L305.0,270.8 L304.0,271.0 L303.0,271.2 L302.0,271.5 L301.0,271.7 L300.0,271.9 L299.0,272.2 L298.0,272.4 L297.0,272.7 L296.0,272.9 L295.0,273.2 L294.0,273.4 L293.0,273.7 L292.0,274.0 L291.0,274.2 L290.0,274.5 L289.0,274.7 L288.0,275.0 L287.0,275.3 L286.0,275.5 L285.0,275.8 L284.0,276.0 L283.0,276.3 L282.0,276.5 L281.0,276.8 L280.0,277.1 L279.0,277.3 L278.0,277.6 L277.0,277.8 L276.0,278.1 L275.0,278.4 L274.0,278.6 L273.0,278.9 L272.0,279.1 L271.0,279.3 L270.0,279.6 L269.0,279.7 L268.0,279.9 L267.0,280.1 L266.0,280.2 L265.0,280.4 L264.0,280.5 L263.0,280.7 L262.0,280.8 L261.0,281.0 L260.0,281.1 L259.0,281.3 L258.0,281.4 L257.0,281.6 L256.0,281.7 L255.0,281.8 L254.0,282.0 L253.0,282.1 L252.0,282.3 L251.0,282.4 L250.0,282.6 L249.0,282.7 L248.0,282.9 L247.0,283.0 L246.0,283.2 L245.0,283.3 L244.0,283.5 L243.0,283.6 L242.0,283.7 L241.0,283.9 L240.0,284.0 L239.0,284.2 L238.0,284.3 L237.0,284.5 L236.0,284.6 L235.0,284.8 L234.0,284.9 L233.0,285.1 L232.0,285.2 L231.0,285.4 L230.0,285.5 L229.0,285.7 L228.0,285.9 L227.0,286.1 L226.0,286.3 L225.0,286.5 L224.0,286.7 L223.0,286.9 L222.0,287.1 L221.0,287.3 L220.0,287.5 L219.0,287.7 L218.0,287.9 L217.0,288.1 L216.0,288.3 L215.0,288.5 L214.0,288.7 L213.0,288.9 L212.0,289.1 L211.0,289.3 L210.0,289.5 L209.0,289.7 L208.0,289.9 L207.0,290.1 L206.0,290.3 L205.0,290.5 L204.0,290.7 L203.0,290.9 L202.0,291.1 L201.0,291.3 L200.0,291.5 L199.0,291.7 L198.0,291.9 L197.0,292.1 L196.0,292.3 L195.0,292.5 L194.0,292.7 L193.0,292.9 L192.0,293.1 L191.0,293.3 L190.0,293.5 L189.0,293.7 L188.0,293.9 L187.0,294.1 L186.0,294.3 L185.0,294.5 L184.0,294.7 L183.0,294.9 L182.0,295.1 L181.0,295.3 L180.0,295.5 L179.0,295.6 L178.0,295.8 L177.0,295.9 L176.0,296.1 L175.0,296.2 L174.0,296.4 L173.0,296.5 L172.0,296.7 L171.0,296.8 L170.0,297.0 L169.0,297.1 L168.0,297.3 L167.0,297.4 L166.0,297.6 L165.0,297.7 L164.0,297.9 L163.0,298.0 L162.0,298.2 L161.0,298.3 L160.0,298.4Z" fill="rgb(236,236,236)"/>
<path d="M342.0,291.6 L343.0,291.2 L344.0,290.8 L345.0,290.4 L346.0,290.1 L347.0,289.9 L348.0,289.8 L349.0,289.8 L350.0,289.8 L351.0,289.9 L352.0,290.0 L353.0,290.1 L354.0,290.2 L355.0,290.3 L356.0,290.4 L357.0,290.6 L358.0,290.7 L359.0,290.9 L360.0,291.1 L361.0,291.3 L362.0,291.5 L363.0,291.7 L364.0,291.9 L365.0,292.1 L366.0,292.3 L367.0,292.6 L368.0,292.8 L369.0,293.1 L370.0,293.3 L371.0,293.6 L372.0,293.9 L373.0,294.2 L374.0,294.4 L375.0,294.7 L376.0,294.8 L377.0,295.0 L378.0,295.1 L379.0,295.2 L380.0,295.3 L381.0,295.4 L382.0,295.4 L383.0,295.5 L384.0,295.6 L385.0,295.6 L386.0,295.7 L387.0,295.8 L388.0,295.9 L389.0,295.9 L390.0,296.0 L391.0,296.1 L392.0,296.1 L393.0,296.2 L394.0,296.3 L395.0,296.3 L396.0,296.4 L397.0,296.5 L398.0,296.5 L399.0,296.6 L400.0,296.6 L401.0,296.6 L402.0,296.7 L403.0,296.7 L404.0,296.8 L405.0,296.8 L406.0,296.8 L407.0,296.9 L408.0,296.9 L409.0,296.9 L410.0,297.0 L410.0,311.5 L409.0,311.5 L408.0,311.5 L407.0,311.5 L406.0,311.5 L405.0,311.5 L404.0,311.5 L403.0,311.5 L402.0,311.5 L401.0,311.5 L400.0,311.5 L399.0,311.5 L398.0,311.5 L397.0,311.5 L396.0,311.4 L395.0,311.4 L394.0,311.3 L393.0,311.3 L392.0,311.3 L391.0,311.2 L390.0,311.2 L389.0,311.1 L388.0,311.1 L387.0,311.0 L386.0,311.0 L385.0,310.9 L384.0,310.9 L383.0,310.8 L382.0,310.8 L381.0,310.7 L380.0,310.7 L379.0,310.6 L378.0,310.6 L377.0,310.5 L376.0,310.3 L375.0,310.1 L374.0,309.9 L373.0,309.6 L372.0,309.3 L371.0,309.0 L370.0,308.6 L369.0,308.3 L368.0,307.9 L367.0,307.5 L366.0,307.1 L365.0,306.7 L364.0,306.3 L363.0,305.9 L362.0,305.5 L361.0,305.1 L360.0,304.6 L359.0,304.2 L358.0,303.8 L357.0,303.4 L356.0,303.1 L355.0,302.7 L354.0,302.4 L353.0,302.0 L352.0,301.7 L351.0,301.3 L350.0,301.0 L349.0,300.6 L348.0,300.2 L347.0,299.8 L346.0,299.3 L345.0,298.9 L344.0,298.4 L343.0,297.9 L342.0,297.5Z" fill="rgb(236,236,236)"/>
<path d="M160.0,295.8 L161.0,295.7 L162.0,295.5 L163.0,295.3 L164.0,295.1 L165.0,294.9 L166.0,294.6 L167.0,294.4 L168.0,294.2 L169.0,294.0 L170.0,293.8 L171.0,293.5 L172.0,293.3 L173.0,293.1 L174.0,292.8 L175.0,292.6 L176.0,292.4 L177.0,292.2 L178.0,291.9 L179.0,291.7 L180.0,291.5 L181.0,291.3 L182.0,291.0 L183.0,290.8 L184.0,290.5 L185.0,290.3 L186.0,290.0 L187.0,289.8 L188.0,289.6 L189.0,289.3 L190.0,289.1 L191.0,288.8 L192.0,288.6 L193.0,288.4 L194.0,288.1 L195.0,287.9 L196.0,287.6 L197.0,287.4 L198.0,287.1 L199.0,286.9 L200.0,286.7 L201.0,286.4 L202.0,286.2 L203.0,285.9 L204.0,285.7 L205.0,285.4 L206.0,285.2 L207.0,285.0 L208.0,284.7 L209.0,284.5 L210.0,284.2 L211.0,284.0 L212.0,283.8 L213.0,283.5 L214.0,283.3 L215.0,283.0 L216.0,282.8 L217.0,282.5 L218.0,282.3 L219.0,282.1 L220.0,281.8 L221.0,281.6 L222.0,281.3 L223.0,281.1 L224.0,280.9 L225.0,280.6 L226.0,280.4 L227.0,280.1 L228.0,279.9 L229.0,279.7 L230.0,279.4 L231.0,279.2 L232.0,279.0 L233.0,278.7 L234.0,278.5 L235.0,278.3 L236.0,278.1 L237.0,277.8 L238.0,277.6 L239.0,277.4 L240.0,277.2 L241.0,277.0 L242.0,276.7 L243.0,276.5 L244.0,276.3 L245.0,276.1 L246.0,275.8 L247.0,275.6 L248.0,275.4 L249.0,275.2 L250.0,274.9 L251.0,274.7 L252.0,274.5 L253.0,274.3 L254.0,274.1 L255.0,273.8 L256.0,273.6 L257.0,273.4 L258.0,273.2 L259.0,272.9 L260.0,272.7 L261.0,272.5 L262.0,272.3 L263.0,272.1 L264.0,271.8 L265.0,271.6 L266.0,271.4 L267.0,271.2 L268.0,270.9 L269.0,270.7 L270.0,270.4 L271.0,270.1 L272.0,269.8 L273.0,269.5 L274.0,269.1 L275.0,268.8 L276.0,268.5 L277.0,268.1 L278.0,267.8 L279.0,267.4 L280.0,267.1 L281.0,266.8 L282.0,266.4 L283.0,266.1 L284.0,265.7 L285.0,265.4 L286.0,265.1 L287.0,264.7 L288.0,264.4 L289.0,264.0 L290.0,263.7 L291.0,263.4 L292.0,263.0 L293.0,262.7 L294.0,262.3 L295.0,262.0 L296.0,261.7 L297.0,261.3 L298.0,261.0 L299.0,260.6 L300.0,260.2 L301.0,259.8 L302.0,259.4 L303.0,259.0 L304.0,258.6 L305.0,258.1 L306.0,257.7 L307.0,257.2 L308.0,256.8 L309.0,256.4 L310.0,255.9 L311.0,255.5 L312.0,255.1 L313.0,254.6 L314.0,254.3 L315.0,254.1 L316.0,254.0 L317.0,254.1 L318.0,254.2 L319.0,254.4 L320.0,254.7 L321.0,255.0 L322.0,255.5 L323.0,256.0 L324.0,256.6 L325.0,257.3 L326.0,258.1 L327.0,258.9 L328.0,259.6 L329.0,260.1 L329.0,264.3 L328.0,264.6 L327.0,264.9 L326.0,265.1 L325.0,265.4 L324.0,265.7 L323.0,265.9 L322.0,266.0 L321.0,266.1 L320.0,266.1 L319.0,266.2 L318.0,266.2 L317.0,266.3 L316.0,266.5 L315.0,266.6 L314.0,266.8 L313.0,267.1 L312.0,267.3 L311.0,267.6 L310.0,267.9 L309.0,268.2 L308.0,268.4 L307.0,268.7 L306.0,269.0 L305.0,269.2 L304.0,269.5 L303.0,269.8 L302.0,270.1 L301.0,270.3 L300.0,270.6 L299.0,270.9 L298.0,271.1 L297.0,271.4 L296.0,271.7 L295.0,271.9 L294.0,272.2 L293.0,272.4 L292.0,272.7 L291.0,273.0 L290.0,273.2 L289.0,273.5 L288.0,273.8 L287.0,274.0 L286.0,274.3 L285.0,274.5 L284.0,274.8 L283.0,275.1 L282.0,275.3 L281.0,275.6 L280.0,275.9 L279.0,276.1 L278.0,276.4 L277.0,276.7 L276.0,276.9 L275.0,277.2 L274.0,277.4 L273.0,277.7 L272.0,278.0 L271.0,278.2 L270.0,278.4 L269.0,278.6 L268.0,278.8 L267.0,278.9 L266.0,279.1 L265.0,279.2 L264.0,279.4 L263.0,279.6 L262.0,279.7 L261.0,279.9 L260.0,280.0 L259.0,280.1 L258.0,280.3 L257.0,280.4 L256.0,280.6 L255.0,280.8 L254.0,280.9 L253.0,281.1 L252.0,281.2 L251.0,281.4 L250.0,281.5 L249.0,281.6 L248.0,281.8 L247.0,281.9 L246.0,282.1 L245.0,282.2 L244.0,282.4 L243.0,282.6 L242.0,282.7 L241.0,282.9 L240.0,283.0 L239.0,283.1 L238.0,283.3 L237.0,283.4 L236.0,283.6 L235.0,283.7 L234.0,283.9 L233.0,284.0 L232.0,284.2 L231.0,284.4 L230.0,284.5 L229.0,284.7 L228.0,284.9 L227.0,285.1 L226.0,285.3 L225.0,285.5 L224.0,285.7 L223.0,285.9 L222.0,286.1 L221.0,286.3 L220.0,286.5 L219.0,286.7 L218.0,286.9 L217.0,287.1 L216.0,287.3 L215.0,287.5 L214.0,287.7 L213.0,287.9 L212.0,288.1 L211.0,288.3 L210.0,288.5 L209.0,288.7 L208.0,288.9 L207.0,289.1 L206.0,289.3 L205.0,289.5 L204.0,289.7 L203.0,289.9 L202.0,290.1 L201.0,290.3 L200.0,290.5 L199.0,290.7 L198.0,290.9 L197.0,291.1 L196.0,291.3 L195.0,291.5 L194.0,291.7 L193.0,291.9 L192.0,292.1 L191.0,292.3 L190.0,292.5 L189.0,292.7 L188.0,292.9 L187.0,293.1 L186.0,293.3 L185.0,293.5 L184.0,293.7 L183.0,293.9 L182.0,294.1 L181.0,294.3 L180.0,294.4 L179.0,294.6 L178.0,294.7 L177.0,294.9 L176.0,295.0 L175.0,295.1 L174.0,295.2 L173.0,295.4 L172.0,295.5 L171.0,295.6 L170.0,295.8 L169.0,295.9 L168.0,296.0 L167.0,296.1 L166.0,296.2 L165.0,296.4 L164.0,296.5 L163.0,296.6 L162.0,296.7 L161.0,296.8 L160.0,296.9Z" fill="rgb(255,255,255)"/>
<path d="M342.0,293.0 L343.0,292.7 L344.0,292.4 L345.0,292.0 L346.0,291.7 L347.0,291.5 L348.0,291.3 L349.0,291.3 L350.0,291.3 L351.0,291.4 L352.0,291.5 L353.0,291.6 L354.0,291.7 L355.0,291.8 L356.0,291.9 L357.0,292.1 L358.0,292.2 L359.0,292.4 L360.0,292.6 L361.0,292.9 L362.0,293.1 L363.0,293.3 L364.0,293.6 L365.0,293.8 L366.0,294.0 L367.0,294.3 L368.0,294.5 L369.0,294.8 L370.0,295.0 L371.0,295.3 L372.0,295.5 L373.0,295.8 L374.0,296.0 L375.0,296.2 L376.0,296.4 L377.0,296.5 L378.0,296.6 L379.0,296.7 L380.0,296.8 L381.0,296.9 L382.0,296.9 L383.0,297.0 L384.0,297.1 L385.0,297.1 L386.0,297.2 L387.0,297.3 L388.0,297.4 L389.0,297.4 L390.0,297.5 L391.0,297.6 L392.0,297.6 L393.0,297.7 L394.0,297.8 L395.0,297.8 L396.0,297.9 L397.0,298.0 L398.0,298.0 L399.0,298.1 L400.0,298.1 L401.0,298.1 L402.0,298.2 L403.0,298.2 L404.0,298.3 L405.0,298.3 L406.0,298.3 L407.0,298.4 L408.0,298.4 L409.0,298.4 L410.0,298.5 L410.0,310.5 L409.0,310.5 L408.0,310.5 L407.0,310.5 L406.0,310.5 L405.0,310.5 L404.0,310.5 L403.0,310.5 L402.0,310.5 L401.0,310.5 L400.0,310.5 L399.0,310.5 L398.0,310.5 L397.0,310.5 L396.0,310.4 L395.0,310.4 L394.0,310.3 L393.0,310.3 L392.0,310.3 L391.0,310.2 L390.0,310.2 L389.0,310.1 L388.0,310.1 L387.0,310.0 L386.0,310.0 L385.0,309.9 L384.0,309.9 L383.0,309.8 L382.0,309.8 L381.0,309.7 L380.0,309.7 L379.0,309.6 L378.0,309.6 L377.0,309.5 L376.0,309.3 L375.0,309.1 L374.0,308.9 L373.0,308.6 L372.0,308.3 L371.0,308.0 L370.0,307.6 L369.0,307.3 L368.0,306.9 L367.0,306.5 L366.0,306.0 L365.0,305.6 L364.0,305.1 L363.0,304.7 L362.0,304.2 L361.0,303.7 L360.0,303.3 L359.0,302.8 L358.0,302.4 L357.0,302.0 L356.0,301.6 L355.0,301.2 L354.0,300.8 L353.0,300.4 L352.0,300.0 L351.0,299.7 L350.0,299.3 L349.0,298.9 L348.0,298.5 L347.0,298.1 L346.0,297.7 L345.0,297.3 L344.0,296.9 L343.0,296.6 L342.0,296.4Z" fill="rgb(255,255,255)"/>
</g>
<polyline points="142.3,301.5 145.2,300.8 148.1,300.2 151.0,299.5 153.9,298.8 156.8,298.2 159.7,297.5 162.6,296.8 165.5,296.1 168.4,295.5 171.3,294.8 174.2,294.1 177.1,293.5 180.0,292.8 182.9,292.1 185.8,291.5 188.7,290.8 191.6,290.1 194.5,289.5 197.4,288.8 200.3,288.2 203.2,287.5 206.1,286.8 209.0,286.2 211.9,285.5 214.8,284.9 217.7,284.2 220.6,283.6 223.5,282.9 226.4,282.3 229.3,281.6 232.2,281.0 235.1,280.3 238.0,279.7 240.9,279.0 243.8,278.4 246.7,277.8 249.6,277.1 252.5,276.5 255.4,275.9 258.3,275.2 261.2,274.6 264.1,274.0 267.0,273.4 269.9,272.8 272.8,272.2 275.7,271.6 278.6,271.0 281.5,270.4 284.4,269.8 287.3,269.2 290.2,268.6 293.1,268.1 296.0,267.5 298.9,267.0 301.8,266.4 304.7,265.9 307.6,265.4 310.5,264.9 313.4,264.4 316.3,263.9 319.2,263.4 322.1,263.0 325.0,262.5 327.9,262.1 330.8,261.7 333.7,261.4 336.6,261.0 339.5,260.7 342.4,260.5 345.3,260.3 348.2,260.1 351.1,260.0 354.0,259.9 356.9,259.9 359.8,260.1 362.7,260.3 365.6,260.6 368.5,261.1 371.4,261.8 374.3,262.7 377.2,263.8 380.1,265.3 383.0,267.3 385.9,269.7 388.8,272.8 391.7,276.8 394.6,281.6 397.5,287.5 400.4,294.2 403.3,301.5" stroke="#ffece8" stroke-width="1.7" fill="none" filter="url(#b7)"/>
<g filter="url(#b3)" fill="none">
<line x1="142.3" y1="301.5" x2="403.3" y2="301.5" stroke="#efe9fb" stroke-width="2.9" stroke-dasharray="10 4.55" stroke-dashoffset="-0.9"/>
</g>
<g filter="url(#b1)">
<text class="lab" x="175" y="243.5">Averaging</text>
<text class="lab" x="317.5" y="231.3">Consensus</text>
</g>
</g>
<line x1="142.3" y1="301.5" x2="405.5" y2="167.8" stroke="#efe9fb" stroke-width="2.9" stroke-dasharray="10.6 8.47" stroke-dashoffset="-3.6" filter="url(#b3)"/>
<g filter="url(#b2)" fill="#2c2c2c">
<ellipse cx="559.7" cy="252.3" rx="3.0" ry="0.86" transform="rotate(5 559.7 252.3)" opacity="0.58"/>
<ellipse cx="555.5" cy="241.8" rx="3.4" ry="0.91" transform="rotate(-12 555.5 241.8)" opacity="0.37"/>
<ellipse cx="667.7" cy="256.8" rx="3.7" ry="1.03" transform="rotate(-7 667.7 256.8)" opacity="0.63"/>
<ellipse cx="594.1" cy="232.2" rx="2.3" ry="0.82" transform="rotate(-9 594.1 232.2)" opacity="0.67"/>
<ellipse cx="624.5" cy="257.6" rx="2.9" ry="0.98" transform="rotate(6 624.5 257.6)" opacity="0.79"/>
<ellipse cx="584.0" cy="221.8" rx="3.2" ry="0.90" transform="rotate(-4 584.0 221.8)" opacity="0.55"/>
<ellipse cx="688.9" cy="236.4" rx="2.7" ry="0.90" transform="rotate(3 688.9 236.4)" opacity="0.34"/>
<ellipse cx="670.8" cy="252.4" rx="2.9" ry="0.94" transform="rotate(-21 670.8 252.4)" opacity="0.61"/>
<ellipse cx="681.9" cy="228.1" rx="3.6" ry="1.14" transform="rotate(2 681.9 228.1)" opacity="0.45"/>
<ellipse cx="597.7" cy="247.8" rx="3.2" ry="0.89" transform="rotate(-6 597.7 247.8)" opacity="0.82"/>
<ellipse cx="648.4" cy="250.5" rx="2.4" ry="0.84" transform="rotate(12 648.4 250.5)" opacity="0.50"/>
<ellipse cx="674.0" cy="250.4" rx="2.5" ry="0.96" transform="rotate(-10 674.0 250.4)" opacity="0.50"/>
<ellipse cx="632.5" cy="270.6" rx="2.4" ry="0.87" transform="rotate(5 632.5 270.6)" opacity="0.47"/>
<ellipse cx="599.0" cy="279.6" rx="3.5" ry="1.11" transform="rotate(6 599.0 279.6)" opacity="0.37"/>
<ellipse cx="621.7" cy="263.7" rx="2.4" ry="0.87" transform="rotate(4 621.7 263.7)" opacity="0.80"/>
<ellipse cx="605.4" cy="275.2" rx="2.7" ry="0.83" transform="rotate(-18 605.4 275.2)" opacity="0.42"/>
<ellipse cx="659.4" cy="254.3" rx="2.8" ry="1.14" transform="rotate(-5 659.4 254.3)" opacity="0.52"/>
<ellipse cx="557.6" cy="247.0" rx="3.5" ry="0.85" transform="rotate(9 557.6 247.0)" opacity="0.42"/>
<ellipse cx="673.6" cy="218.9" rx="3.4" ry="0.87" transform="rotate(-6 673.6 218.9)" opacity="0.62"/>
<ellipse cx="682.6" cy="226.2" rx="3.2" ry="0.84" transform="rotate(1 682.6 226.2)" opacity="0.43"/>
<ellipse cx="684.0" cy="246.4" rx="2.6" ry="1.01" transform="rotate(-5 684.0 246.4)" opacity="0.53"/>
<ellipse cx="603.5" cy="256.6" rx="3.3" ry="0.88" transform="rotate(11 603.5 256.6)" opacity="0.45"/>
<ellipse cx="551.7" cy="231.3" rx="3.6" ry="0.81" transform="rotate(-13 551.7 231.3)" opacity="0.36"/>
<ellipse cx="604.2" cy="266.7" rx="2.3" ry="0.93" transform="rotate(-12 604.2 266.7)" opacity="0.45"/>
<ellipse cx="591.4" cy="236.3" rx="3.7" ry="1.04" transform="rotate(-21 591.4 236.3)" opacity="0.74"/>
<ellipse cx="591.8" cy="235.1" rx="2.3" ry="1.12" transform="rotate(12 591.8 235.1)" opacity="0.44"/>
<ellipse cx="597.3" cy="205.8" rx="3.0" ry="0.91" transform="rotate(10 597.3 205.8)" opacity="0.50"/>
<ellipse cx="633.5" cy="239.9" rx="3.1" ry="1.12" transform="rotate(-4 633.5 239.9)" opacity="0.80"/>
<ellipse cx="613.9" cy="208.9" rx="2.8" ry="1.12" transform="rotate(1 613.9 208.9)" opacity="0.57"/>
<ellipse cx="649.6" cy="221.3" rx="3.4" ry="1.00" transform="rotate(-30 649.6 221.3)" opacity="0.74"/>
<ellipse cx="584.4" cy="226.0" rx="2.4" ry="1.15" transform="rotate(-19 584.4 226.0)" opacity="0.66"/>
<ellipse cx="663.8" cy="215.9" rx="2.8" ry="1.00" transform="rotate(-13 663.8 215.9)" opacity="0.58"/>
<ellipse cx="548.3" cy="257.4" rx="2.3" ry="0.97" transform="rotate(10 548.3 257.4)" opacity="0.50"/>
<ellipse cx="616.8" cy="272.7" rx="3.0" ry="1.12" transform="rotate(3 616.8 272.7)" opacity="0.55"/>
<ellipse cx="613.2" cy="244.8" rx="2.6" ry="1.12" transform="rotate(-11 613.2 244.8)" opacity="0.53"/>
<ellipse cx="591.0" cy="220.9" rx="3.6" ry="1.03" transform="rotate(10 591.0 220.9)" opacity="0.51"/>
<ellipse cx="625.7" cy="264.0" rx="3.6" ry="1.00" transform="rotate(2 625.7 264.0)" opacity="0.54"/>
<ellipse cx="601.3" cy="254.2" rx="3.0" ry="1.10" transform="rotate(-29 601.3 254.2)" opacity="0.82"/>
<ellipse cx="602.1" cy="205.1" rx="2.9" ry="0.87" transform="rotate(-7 602.1 205.1)" opacity="0.36"/>
<ellipse cx="561.2" cy="259.4" rx="3.0" ry="1.09" transform="rotate(1 561.2 259.4)" opacity="0.46"/>
<ellipse cx="663.8" cy="235.5" rx="3.6" ry="1.05" transform="rotate(-4 663.8 235.5)" opacity="0.39"/>
<ellipse cx="578.6" cy="233.9" rx="3.4" ry="0.85" transform="rotate(-5 578.6 233.9)" opacity="0.41"/>
<ellipse cx="603.2" cy="243.2" rx="2.5" ry="1.02" transform="rotate(-2 603.2 243.2)" opacity="0.47"/>
<ellipse cx="556.8" cy="254.1" rx="3.2" ry="1.14" transform="rotate(-13 556.8 254.1)" opacity="0.64"/>
<ellipse cx="603.4" cy="226.2" rx="2.3" ry="1.05" transform="rotate(-13 603.4 226.2)" opacity="0.63"/>
<ellipse cx="627.7" cy="258.0" rx="2.8" ry="0.98" transform="rotate(-5 627.7 258.0)" opacity="0.72"/>
<ellipse cx="568.6" cy="221.4" rx="3.6" ry="1.13" transform="rotate(-21 568.6 221.4)" opacity="0.35"/>
<ellipse cx="611.6" cy="227.9" rx="2.9" ry="1.12" transform="rotate(6 611.6 227.9)" opacity="0.73"/>
<ellipse cx="570.9" cy="263.5" rx="3.7" ry="1.03" transform="rotate(8 570.9 263.5)" opacity="0.53"/>
<ellipse cx="626.8" cy="271.7" rx="3.5" ry="1.05" transform="rotate(-20 626.8 271.7)" opacity="0.55"/>
<ellipse cx="624.7" cy="276.1" rx="3.1" ry="0.91" transform="rotate(24 624.7 276.1)" opacity="0.54"/>
<ellipse cx="675.4" cy="218.6" rx="2.8" ry="0.95" transform="rotate(-10 675.4 218.6)" opacity="0.32"/>
<ellipse cx="553.5" cy="233.7" rx="3.5" ry="1.08" transform="rotate(-9 553.5 233.7)" opacity="0.34"/>
<ellipse cx="630.8" cy="259.5" rx="3.4" ry="0.85" transform="rotate(-6 630.8 259.5)" opacity="0.45"/>
<ellipse cx="551.5" cy="240.9" rx="3.7" ry="1.13" transform="rotate(3 551.5 240.9)" opacity="0.50"/>
<ellipse cx="642.0" cy="248.6" rx="3.0" ry="1.06" transform="rotate(-20 642.0 248.6)" opacity="0.55"/>
<ellipse cx="582.9" cy="221.5" rx="2.7" ry="1.10" transform="rotate(2 582.9 221.5)" opacity="0.51"/>
<ellipse cx="642.4" cy="229.5" rx="3.5" ry="0.98" transform="rotate(-18 642.4 229.5)" opacity="0.86"/>
<ellipse cx="586.0" cy="235.1" rx="3.2" ry="1.14" transform="rotate(-19 586.0 235.1)" opacity="0.43"/>
<ellipse cx="568.0" cy="241.0" rx="3.5" ry="0.97" transform="rotate(-9 568.0 241.0)" opacity="0.62"/>
<ellipse cx="608.8" cy="232.5" rx="3.7" ry="0.89" transform="rotate(-17 608.8 232.5)" opacity="0.89"/>
<ellipse cx="588.4" cy="244.6" rx="2.9" ry="1.12" transform="rotate(-9 588.4 244.6)" opacity="0.82"/>
<ellipse cx="572.7" cy="246.3" rx="3.6" ry="1.07" transform="rotate(-1 572.7 246.3)" opacity="0.45"/>
<ellipse cx="645.3" cy="241.7" rx="2.6" ry="0.91" transform="rotate(8 645.3 241.7)" opacity="0.74"/>
<ellipse cx="574.4" cy="266.9" rx="2.4" ry="0.89" transform="rotate(8 574.4 266.9)" opacity="0.53"/>
<ellipse cx="627.3" cy="266.6" rx="2.9" ry="0.94" transform="rotate(5 627.3 266.6)" opacity="0.51"/>
<ellipse cx="586.0" cy="239.8" rx="3.2" ry="1.10" transform="rotate(-2 586.0 239.8)" opacity="0.67"/>
<ellipse cx="564.7" cy="220.6" rx="2.6" ry="1.08" transform="rotate(9 564.7 220.6)" opacity="0.54"/>
<ellipse cx="649.6" cy="226.9" rx="2.6" ry="1.11" transform="rotate(-16 649.6 226.9)" opacity="0.83"/>
<ellipse cx="635.6" cy="253.6" rx="3.3" ry="0.83" transform="rotate(17 635.6 253.6)" opacity="0.53"/>
<ellipse cx="641.0" cy="218.1" rx="2.9" ry="0.81" transform="rotate(-5 641.0 218.1)" opacity="0.66"/>
<ellipse cx="628.0" cy="270.5" rx="3.6" ry="0.84" transform="rotate(-12 628.0 270.5)" opacity="0.68"/>
<ellipse cx="549.3" cy="243.3" rx="2.5" ry="0.84" transform="rotate(-23 549.3 243.3)" opacity="0.34"/>
<ellipse cx="666.5" cy="244.8" rx="3.0" ry="0.85" transform="rotate(-6 666.5 244.8)" opacity="0.58"/>
<ellipse cx="624.7" cy="255.9" rx="3.6" ry="0.82" transform="rotate(12 624.7 255.9)" opacity="0.46"/>
<ellipse cx="663.1" cy="230.6" rx="3.4" ry="0.96" transform="rotate(-34 663.1 230.6)" opacity="0.50"/>
<ellipse cx="566.2" cy="241.2" rx="3.3" ry="0.86" transform="rotate(-7 566.2 241.2)" opacity="0.73"/>
<ellipse cx="551.1" cy="253.8" rx="2.9" ry="0.86" transform="rotate(-7 551.1 253.8)" opacity="0.39"/>
<ellipse cx="605.5" cy="241.1" rx="3.3" ry="1.02" transform="rotate(9 605.5 241.1)" opacity="0.88"/>
<ellipse cx="564.0" cy="260.4" rx="3.0" ry="1.08" transform="rotate(-18 564.0 260.4)" opacity="0.72"/>
<ellipse cx="604.6" cy="278.3" rx="3.5" ry="1.11" transform="rotate(-7 604.6 278.3)" opacity="0.42"/>
<ellipse cx="662.6" cy="216.5" rx="3.4" ry="0.94" transform="rotate(-25 662.6 216.5)" opacity="0.60"/>
<ellipse cx="612.3" cy="231.5" rx="2.3" ry="1.02" transform="rotate(-13 612.3 231.5)" opacity="0.61"/>
<ellipse cx="591.0" cy="229.5" rx="3.7" ry="0.92" transform="rotate(4 591.0 229.5)" opacity="0.71"/>
<ellipse cx="587.7" cy="218.1" rx="3.7" ry="1.05" transform="rotate(-17 587.7 218.1)" opacity="0.60"/>
<ellipse cx="625.4" cy="202.2" rx="2.3" ry="1.06" transform="rotate(-8 625.4 202.2)" opacity="0.46"/>
<ellipse cx="608.3" cy="265.3" rx="2.8" ry="0.89" transform="rotate(1 608.3 265.3)" opacity="0.42"/>
<ellipse cx="662.0" cy="222.6" rx="3.0" ry="1.00" transform="rotate(-4 662.0 222.6)" opacity="0.73"/>
<ellipse cx="673.5" cy="236.9" rx="3.1" ry="0.82" transform="rotate(-4 673.5 236.9)" opacity="0.62"/>
<ellipse cx="641.2" cy="233.2" rx="3.0" ry="0.97" transform="rotate(-10 641.2 233.2)" opacity="0.50"/>
<ellipse cx="601.8" cy="236.0" rx="3.0" ry="0.93" transform="rotate(5 601.8 236.0)" opacity="0.73"/>
<ellipse cx="595.9" cy="272.2" rx="3.1" ry="1.05" transform="rotate(-10 595.9 272.2)" opacity="0.44"/>
<ellipse cx="611.0" cy="245.2" rx="2.5" ry="0.94" transform="rotate(-6 611.0 245.2)" opacity="0.82"/>
<ellipse cx="668.7" cy="218.1" rx="2.3" ry="1.13" transform="rotate(-3 668.7 218.1)" opacity="0.66"/>
<ellipse cx="675.2" cy="254.1" rx="3.7" ry="0.98" transform="rotate(-17 675.2 254.1)" opacity="0.37"/>
<ellipse cx="674.4" cy="225.2" rx="3.0" ry="1.09" transform="rotate(-1 674.4 225.2)" opacity="0.67"/>
<ellipse cx="595.8" cy="234.4" rx="2.6" ry="0.98" transform="rotate(-15 595.8 234.4)" opacity="0.46"/>
<ellipse cx="646.1" cy="257.1" rx="3.3" ry="0.89" transform="rotate(-15 646.1 257.1)" opacity="0.56"/>
<ellipse cx="574.4" cy="230.9" rx="3.7" ry="1.06" transform="rotate(-4 574.4 230.9)" opacity="0.78"/>
<ellipse cx="613.8" cy="253.5" rx="3.6" ry="1.02" transform="rotate(-19 613.8 253.5)" opacity="0.81"/>
<ellipse cx="587.5" cy="257.6" rx="3.1" ry="1.06" transform="rotate(-12 587.5 257.6)" opacity="0.69"/>
<ellipse cx="624.7" cy="257.9" rx="3.7" ry="1.11" transform="rotate(-19 624.7 257.9)" opacity="0.82"/>
<ellipse cx="630.6" cy="242.3" rx="3.2" ry="0.99" transform="rotate(-8 630.6 242.3)" opacity="0.49"/>
<ellipse cx="632.1" cy="244.8" rx="3.3" ry="1.02" transform="rotate(5 632.1 244.8)" opacity="0.70"/>
<ellipse cx="575.3" cy="261.9" rx="3.4" ry="0.83" transform="rotate(-4 575.3 261.9)" opacity="0.71"/>
<ellipse cx="659.4" cy="262.3" rx="3.2" ry="0.87" transform="rotate(4 659.4 262.3)" opacity="0.57"/>
<ellipse cx="579.7" cy="251.6" rx="3.2" ry="0.91" transform="rotate(-2 579.7 251.6)" opacity="0.85"/>
<ellipse cx="554.1" cy="234.2" rx="3.6" ry="0.93" transform="rotate(-16 554.1 234.2)" opacity="0.47"/>
<ellipse cx="668.2" cy="258.8" rx="3.1" ry="1.04" transform="rotate(-2 668.2 258.8)" opacity="0.45"/>
<ellipse cx="589.1" cy="274.6" rx="2.4" ry="1.03" transform="rotate(-4 589.1 274.6)" opacity="0.39"/>
<ellipse cx="647.6" cy="249.4" rx="2.7" ry="0.93" transform="rotate(-9 647.6 249.4)" opacity="0.46"/>
<ellipse cx="610.8" cy="218.5" rx="2.4" ry="1.00" transform="rotate(-23 610.8 218.5)" opacity="0.69"/>
<ellipse cx="680.2" cy="219.1" rx="3.5" ry="0.91" transform="rotate(4 680.2 219.1)" opacity="0.38"/>
<ellipse cx="552.1" cy="266.3" rx="3.6" ry="0.93" transform="rotate(-12 552.1 266.3)" opacity="0.36"/>
<ellipse cx="581.9" cy="259.8" rx="2.5" ry="1.08" transform="rotate(-15 581.9 259.8)" opacity="0.63"/>
<ellipse cx="549.2" cy="235.6" rx="3.1" ry="1.07" transform="rotate(1 549.2 235.6)" opacity="0.36"/>
<ellipse cx="644.5" cy="225.8" rx="3.1" ry="1.14" transform="rotate(7 644.5 225.8)" opacity="0.66"/>
<ellipse cx="579.4" cy="214.7" rx="2.3" ry="1.08" transform="rotate(-4 579.4 214.7)" opacity="0.49"/>
<ellipse cx="630.8" cy="245.4" rx="2.4" ry="0.85" transform="rotate(-8 630.8 245.4)" opacity="0.74"/>
<ellipse cx="617.2" cy="209.9" rx="2.6" ry="1.07" transform="rotate(-29 617.2 209.9)" opacity="0.42"/>
<ellipse cx="550.1" cy="239.9" rx="3.7" ry="0.97" transform="rotate(-14 550.1 239.9)" opacity="0.55"/>
<ellipse cx="553.6" cy="236.6" rx="3.3" ry="0.94" transform="rotate(0 553.6 236.6)" opacity="0.65"/>
<ellipse cx="646.3" cy="211.5" rx="3.5" ry="1.14" transform="rotate(6 646.3 211.5)" opacity="0.66"/>
<ellipse cx="583.2" cy="221.3" rx="3.3" ry="0.95" transform="rotate(-22 583.2 221.3)" opacity="0.68"/>
<ellipse cx="588.7" cy="249.2" rx="2.8" ry="0.87" transform="rotate(-8 588.7 249.2)" opacity="0.50"/>
<ellipse cx="577.3" cy="252.2" rx="3.7" ry="0.91" transform="rotate(-40 577.3 252.2)" opacity="0.43"/>
<ellipse cx="655.8" cy="259.2" rx="2.3" ry="1.00" transform="rotate(-5 655.8 259.2)" opacity="0.51"/>
<ellipse cx="625.8" cy="236.6" rx="2.4" ry="0.88" transform="rotate(-13 625.8 236.6)" opacity="0.54"/>
<ellipse cx="614.8" cy="273.4" rx="2.5" ry="0.86" transform="rotate(-12 614.8 273.4)" opacity="0.42"/>
<ellipse cx="619.2" cy="219.6" rx="3.1" ry="0.97" transform="rotate(-10 619.2 219.6)" opacity="0.76"/>
<ellipse cx="603.7" cy="277.8" rx="3.1" ry="0.97" transform="rotate(3 603.7 277.8)" opacity="0.60"/>
<ellipse cx="615.6" cy="248.9" rx="3.7" ry="0.93" transform="rotate(-11 615.6 248.9)" opacity="0.84"/>
<ellipse cx="562.4" cy="239.0" rx="3.2" ry="0.80" transform="rotate(-11 562.4 239.0)" opacity="0.45"/>
<ellipse cx="569.2" cy="247.3" rx="3.4" ry="1.01" transform="rotate(27 569.2 247.3)" opacity="0.69"/>
<ellipse cx="627.8" cy="252.6" rx="3.6" ry="1.02" transform="rotate(-10 627.8 252.6)" opacity="0.67"/>
<ellipse cx="651.8" cy="238.1" rx="3.1" ry="1.07" transform="rotate(2 651.8 238.1)" opacity="0.47"/>
<ellipse cx="681.7" cy="237.7" rx="2.4" ry="1.05" transform="rotate(6 681.7 237.7)" opacity="0.39"/>
<ellipse cx="653.6" cy="254.0" rx="3.0" ry="1.01" transform="rotate(-23 653.6 254.0)" opacity="0.75"/>
<ellipse cx="641.7" cy="223.3" rx="3.6" ry="1.09" transform="rotate(-3 641.7 223.3)" opacity="0.44"/>
<ellipse cx="623.9" cy="267.7" rx="3.0" ry="1.09" transform="rotate(-17 623.9 267.7)" opacity="0.42"/>
<ellipse cx="595.6" cy="261.5" rx="3.0" ry="0.93" transform="rotate(2 595.6 261.5)" opacity="0.71"/>
<ellipse cx="606.7" cy="230.3" rx="2.8" ry="1.14" transform="rotate(-2 606.7 230.3)" opacity="0.65"/>
<ellipse cx="647.1" cy="212.0" rx="3.3" ry="1.00" transform="rotate(5 647.1 212.0)" opacity="0.42"/>
<ellipse cx="607.1" cy="242.3" rx="3.7" ry="0.87" transform="rotate(-5 607.1 242.3)" opacity="0.85"/>
<ellipse cx="586.7" cy="228.9" rx="2.7" ry="0.94" transform="rotate(-16 586.7 228.9)" opacity="0.55"/>
<ellipse cx="598.1" cy="225.3" rx="2.5" ry="0.92" transform="rotate(4 598.1 225.3)" opacity="0.74"/>
<ellipse cx="667.8" cy="228.4" rx="3.5" ry="0.85" transform="rotate(-8 667.8 228.4)" opacity="0.39"/>
<ellipse cx="662.1" cy="256.1" rx="3.3" ry="0.94" transform="rotate(-16 662.1 256.1)" opacity="0.40"/>
<ellipse cx="647.6" cy="214.0" rx="2.5" ry="0.94" transform="rotate(1 647.6 214.0)" opacity="0.39"/>
<ellipse cx="675.9" cy="254.0" rx="2.9" ry="1.03" transform="rotate(-2 675.9 254.0)" opacity="0.45"/>
<ellipse cx="626.5" cy="205.6" rx="2.9" ry="0.94" transform="rotate(-13 626.5 205.6)" opacity="0.31"/>
<ellipse cx="596.6" cy="205.5" rx="3.4" ry="1.01" transform="rotate(0 596.6 205.5)" opacity="0.47"/>
<ellipse cx="655.5" cy="241.3" rx="2.4" ry="0.98" transform="rotate(-15 655.5 241.3)" opacity="0.56"/>
<ellipse cx="635.6" cy="205.9" rx="3.2" ry="1.07" transform="rotate(7 635.6 205.9)" opacity="0.36"/>
<ellipse cx="661.5" cy="222.3" rx="2.5" ry="1.15" transform="rotate(-14 661.5 222.3)" opacity="0.63"/>
<ellipse cx="551.8" cy="241.0" rx="3.5" ry="1.13" transform="rotate(4 551.8 241.0)" opacity="0.39"/>
<ellipse cx="593.3" cy="230.2" rx="3.1" ry="0.92" transform="rotate(1 593.3 230.2)" opacity="0.74"/>
<ellipse cx="655.4" cy="229.0" rx="2.9" ry="1.14" transform="rotate(-2 655.4 229.0)" opacity="0.44"/>
<ellipse cx="656.6" cy="266.4" rx="3.1" ry="1.12" transform="rotate(-20 656.6 266.4)" opacity="0.37"/>
<ellipse cx="681.7" cy="235.7" rx="3.2" ry="1.09" transform="rotate(-10 681.7 235.7)" opacity="0.35"/>
</g>
<g filter="url(#b1)">
<line x1="686" y1="201" x2="737.5" y2="89" stroke="#e2352b" stroke-width="3.5" stroke-dasharray="3 3.05"/>
<path d="M742.5,78.8 L743.6,93.5 L730.5,88.2Z" fill="#e2352b"/>
<line x1="686.8" y1="275.5" x2="739" y2="388" stroke="#4ad83a" stroke-width="3.5" stroke-dasharray="3 3.05"/>
<path d="M746.5,402 L733.5,390.5 L745,385Z" fill="#4ad83a"/>
<line x1="682" y1="274" x2="721" y2="362" stroke="#303030" stroke-width="3"/>
<path d="M725.3,372.5 L716.2,362 L725.2,358Z" fill="#303030"/>
</g>
</svg>
</body></html>
